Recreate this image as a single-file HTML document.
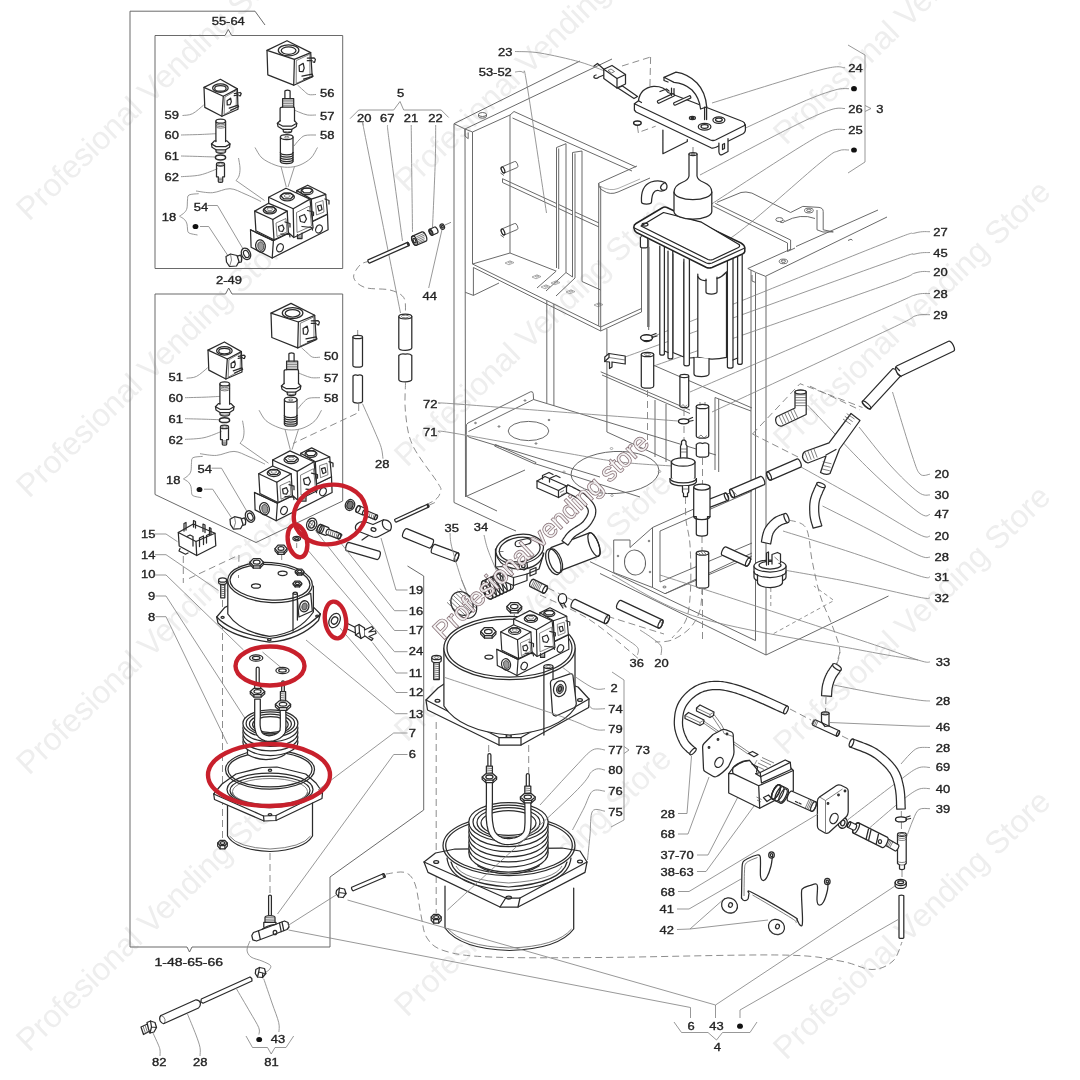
<!DOCTYPE html>
<html lang="en"><head><meta charset="utf-8"><title>Exploded parts diagram</title>
<style>
html,body{margin:0;padding:0;background:#fff}
body{width:1080px;height:1080px;overflow:hidden}
svg{display:block}
text{filter:grayscale(1)}
text.wc{filter:saturate(1.2)}
.p{stroke:#2b2b2b;stroke-width:1.25;fill:none;stroke-linejoin:round;stroke-linecap:round}
.pw{stroke:#2b2b2b;stroke-width:1.25;fill:#fff;stroke-linejoin:round;stroke-linecap:round}
.pt{stroke:#4a4a4a;stroke-width:.7;fill:none}
.l{stroke:#858585;stroke-width:.85;fill:none}
.d{stroke:#808080;stroke-width:.9;fill:none;stroke-dasharray:7 4}
.ds{stroke:#8a8a8a;stroke-width:.9;fill:none;stroke-dasharray:4 3}
.f{stroke:#626262;stroke-width:.95;fill:none;stroke-linejoin:round}
.fl{stroke:#8a8a8a;stroke-width:.7;fill:none}
.r{stroke:#c8202c;stroke-width:4.4;fill:none}
.n{font-family:"Liberation Sans",sans-serif;font-size:10.8px;fill:#242424;stroke:#242424;stroke-width:.35}
.wm{font-family:"Liberation Sans",sans-serif;font-size:32px;fill:#eeeeee}
.wc{font-family:"Liberation Sans",sans-serif;font-size:25.3px;fill:#fff;fill-opacity:.8;stroke:#7a666b;stroke-width:1.3;paint-order:stroke}
.k{fill:#111;stroke:none}
</style></head><body>
<svg width="1080" height="1080" viewBox="0 0 1080 1080">
<rect width="1080" height="1080" fill="#fff"/>
<!-- 01_watermarks.py -->
<text class="wm" transform="translate(29 222) rotate(-44)">Profesional Vending Store</text>
<text class="wm" transform="translate(29 499) rotate(-44)">Profesional Vending Store</text>
<text class="wm" transform="translate(29 776) rotate(-44)">Profesional Vending Store</text>
<text class="wm" transform="translate(29 1053) rotate(-44)">Profesional Vending Store</text>
<text class="wm" transform="translate(407 193) rotate(-44)">Profesional Vending Store</text>
<text class="wm" transform="translate(407 468) rotate(-44)">Profesional Vending Store</text>
<text class="wm" transform="translate(407 743) rotate(-44)">Profesional Vending Store</text>
<text class="wm" transform="translate(407 1018) rotate(-44)">Profesional Vending Store</text>
<text class="wm" transform="translate(786 146) rotate(-44)">Profesional Vending Store</text>
<text class="wm" transform="translate(786 451) rotate(-44)">Profesional Vending Store</text>
<text class="wm" transform="translate(786 756) rotate(-44)">Profesional Vending Store</text>
<text class="wm" transform="translate(786 1061) rotate(-44)">Profesional Vending Store</text>
<!-- 05_frames.py -->
<polyline class="f" points="265,25 255,11.2 130,11.2 130,947 187,947 189.5,952 192,947 330,947 330,877 423.7,810 423.7,576 407.5,566"/>
<polyline class="f" points="225,35.5 155,35.5 155,268.5 342.7,268.5 342.7,35.5 231.7,35.5 228.3,29.5 225,35.5"/>
<polyline class="f" points="225.5,294 155,294 155,494.5 256,542.5 342.7,501 342.7,294 232,294 228.7,288 225.5,294"/>
<!-- 10_labels.py -->
<text class="n" transform="translate(211.7 25) scale(1.2 1)">55-64</text>
<text class="n" transform="translate(320 97) scale(1.2 1)">56</text>
<text class="n" transform="translate(320 119.5) scale(1.2 1)">57</text>
<text class="n" transform="translate(320 139) scale(1.2 1)">58</text>
<text class="n" transform="translate(164.5 118.5) scale(1.2 1)">59</text>
<text class="n" transform="translate(164.5 139) scale(1.2 1)">60</text>
<text class="n" transform="translate(164.5 159.5) scale(1.2 1)">61</text>
<text class="n" transform="translate(164.5 180.5) scale(1.2 1)">62</text>
<text class="n" transform="translate(161.7 220.7) scale(1.2 1)">18</text>
<text class="n" transform="translate(193.7 210.5) scale(1.2 1)">54</text>
<text class="n" transform="translate(216 284) scale(1.2 1)">2-49</text>
<text class="n" transform="translate(324 360) scale(1.2 1)">50</text>
<text class="n" transform="translate(324 381.5) scale(1.2 1)">57</text>
<text class="n" transform="translate(324 402) scale(1.2 1)">58</text>
<text class="n" transform="translate(168.5 381) scale(1.2 1)">51</text>
<text class="n" transform="translate(168.5 401.7) scale(1.2 1)">60</text>
<text class="n" transform="translate(168.5 422.5) scale(1.2 1)">61</text>
<text class="n" transform="translate(168.5 443.5) scale(1.2 1)">62</text>
<text class="n" transform="translate(166 483.7) scale(1.2 1)">18</text>
<text class="n" transform="translate(197.5 473) scale(1.2 1)">54</text>
<text class="n" transform="translate(141 538.2) scale(1.2 1)">15</text>
<text class="n" transform="translate(141 558.7) scale(1.2 1)">14</text>
<text class="n" transform="translate(141 578.2) scale(1.2 1)">10</text>
<text class="n" transform="translate(148 599.5) scale(1.2 1)">9</text>
<text class="n" transform="translate(148 620.5) scale(1.2 1)">8</text>
<text class="n" transform="translate(375 468) scale(1.2 1)">28</text>
<text class="n" transform="translate(444.5 532) scale(1.2 1)">35</text>
<text class="n" transform="translate(473.7 531.2) scale(1.2 1)">34</text>
<text class="n" transform="translate(408.7 593.7) scale(1.2 1)">19</text>
<text class="n" transform="translate(408.7 614.5) scale(1.2 1)">16</text>
<text class="n" transform="translate(408.7 633.7) scale(1.2 1)">17</text>
<text class="n" transform="translate(408.7 655) scale(1.2 1)">24</text>
<text class="n" transform="translate(408.7 676.7) scale(1.2 1)">11</text>
<text class="n" transform="translate(408.7 696.2) scale(1.2 1)">12</text>
<text class="n" transform="translate(408.7 717.5) scale(1.2 1)">13</text>
<text class="n" transform="translate(408.7 736.7) scale(1.2 1)">7</text>
<text class="n" transform="translate(408.7 758) scale(1.2 1)">6</text>
<text class="n" transform="translate(498 55.5) scale(1.2 1)">23</text>
<text class="n" transform="translate(478.7 75.7) scale(1.2 1)">53-52</text>
<text class="n" transform="translate(397 97) scale(1.2 1)">5</text>
<text class="n" transform="translate(357 122) scale(1.2 1)">20</text>
<text class="n" transform="translate(380 122) scale(1.2 1)">67</text>
<text class="n" transform="translate(403.7 122) scale(1.2 1)">21</text>
<text class="n" transform="translate(428.2 122) scale(1.2 1)">22</text>
<text class="n" transform="translate(422.5 299.5) scale(1.2 1)">44</text>
<text class="n" transform="translate(423 407.5) scale(1.2 1)">72</text>
<text class="n" transform="translate(423 436.2) scale(1.2 1)">71</text>
<text class="n" transform="translate(848.2 71.7) scale(1.2 1)">24</text>
<text class="n" transform="translate(848.2 112.5) scale(1.2 1)">26</text>
<text class="n" transform="translate(876.2 112.5) scale(1.2 1)">3</text>
<text class="n" transform="translate(848.2 133.7) scale(1.2 1)">25</text>
<text class="n" transform="translate(933.2 235.7) scale(1.2 1)">27</text>
<text class="n" transform="translate(933.2 256.5) scale(1.2 1)">45</text>
<text class="n" transform="translate(933.2 275.7) scale(1.2 1)">20</text>
<text class="n" transform="translate(933.2 297.5) scale(1.2 1)">28</text>
<text class="n" transform="translate(933.2 318.7) scale(1.2 1)">29</text>
<text class="n" transform="translate(934.5 478.2) scale(1.2 1)">20</text>
<text class="n" transform="translate(934.5 499) scale(1.2 1)">30</text>
<text class="n" transform="translate(934.5 518.2) scale(1.2 1)">47</text>
<text class="n" transform="translate(934.5 540) scale(1.2 1)">20</text>
<text class="n" transform="translate(934.5 561.2) scale(1.2 1)">28</text>
<text class="n" transform="translate(934.5 580.7) scale(1.2 1)">31</text>
<text class="n" transform="translate(934.5 602) scale(1.2 1)">32</text>
<text class="n" transform="translate(935.7 666.2) scale(1.2 1)">33</text>
<text class="n" transform="translate(935.7 705) scale(1.2 1)">28</text>
<text class="n" transform="translate(935.7 730.5) scale(1.2 1)">46</text>
<text class="n" transform="translate(935.7 752) scale(1.2 1)">28</text>
<text class="n" transform="translate(935.7 771.2) scale(1.2 1)">69</text>
<text class="n" transform="translate(935.7 793) scale(1.2 1)">40</text>
<text class="n" transform="translate(935.7 813.2) scale(1.2 1)">39</text>
<text class="n" transform="translate(629.5 666.7) scale(1.2 1)">36</text>
<text class="n" transform="translate(654.2 666.7) scale(1.2 1)">20</text>
<text class="n" transform="translate(610.5 692) scale(1.2 1)">2</text>
<text class="n" transform="translate(608.2 712.5) scale(1.2 1)">74</text>
<text class="n" transform="translate(608.2 733) scale(1.2 1)">79</text>
<text class="n" transform="translate(608.2 754.2) scale(1.2 1)">77</text>
<text class="n" transform="translate(635.5 754.2) scale(1.2 1)">73</text>
<text class="n" transform="translate(608.2 774.2) scale(1.2 1)">80</text>
<text class="n" transform="translate(608.2 795) scale(1.2 1)">76</text>
<text class="n" transform="translate(608.2 815.7) scale(1.2 1)">75</text>
<text class="n" transform="translate(660.5 817.5) scale(1.2 1)">28</text>
<text class="n" transform="translate(660.5 838) scale(1.2 1)">68</text>
<text class="n" transform="translate(660.5 859.2) scale(1.2 1)">37-70</text>
<text class="n" transform="translate(660.5 875.7) scale(1.2 1)">38-63</text>
<text class="n" transform="translate(660.5 895.5) scale(1.2 1)">68</text>
<text class="n" transform="translate(659.5 913) scale(1.2 1)">41</text>
<text class="n" transform="translate(659.5 934.2) scale(1.2 1)">42</text>
<text class="n" transform="translate(687.5 1030) scale(1.2 1)">6</text>
<text class="n" transform="translate(709.2 1030) scale(1.2 1)">43</text>
<text class="n" transform="translate(713.7 1051.2) scale(1.2 1)">4</text>
<text class="n" transform="translate(154.5 965.5) scale(1.3 1)">1-48-65-66</text>
<text class="n" transform="translate(152 1066.2) scale(1.2 1)">82</text>
<text class="n" transform="translate(193 1066.2) scale(1.2 1)">28</text>
<text class="n" transform="translate(264.2 1066.2) scale(1.2 1)">81</text>
<text class="n" transform="translate(270.7 1042.5) scale(1.2 1)">43</text>
<ellipse class="k" cx="195.5" cy="226.5" rx="2.9" ry="2.6"/>
<ellipse class="k" cx="199.5" cy="489.5" rx="2.9" ry="2.6"/>
<ellipse class="k" cx="854" cy="88.7" rx="2.9" ry="2.6"/>
<ellipse class="k" cx="854" cy="150" rx="2.9" ry="2.6"/>
<ellipse class="k" cx="740" cy="1026.2" rx="2.9" ry="2.6"/>
<ellipse class="k" cx="259.2" cy="1039.5" rx="2.9" ry="2.6"/>
<!-- 15_cabinet.py -->
<polyline class="f" points="454,123.7 454,502.5"/>
<polyline class="f" points="468.2,132.5 468.2,138.7 465,136 465,129"/>
<polyline class="f" points="465,129 465.5,497"/>
<polyline class="f" points="472.5,132 472.5,264"/>
<polyline class="f" points="454,123.7 580,61"/>
<polyline class="f" points="465,129 612,59"/>
<polyline class="f" points="454,123.7 465,129 472.5,132"/>
<path class="f" d="M478.5 114.5V116.2A4 2 0 0 0 486.5 116.2V114.5"/>
<ellipse class="f" cx="482.5" cy="114.5" rx="4" ry="2"/>
<polyline class="f" points="472.5,132 510,115 510,253"/>
<polyline class="f" points="510,115 514,111.5 636,167"/>
<polyline class="f" points="512.5,118 632,171"/>
<polyline class="f" points="556.5,147.5 556.5,268"/>
<polyline class="f" points="558.7,148.5 558.7,269"/>
<polyline class="f" points="566,143.7 566,272.5"/>
<polyline class="f" points="572.5,152.5 572.5,277"/>
<polyline class="f" points="575,153.5 575,278"/>
<polyline class="f" points="582,151 582,281.5"/>
<polyline class="f" points="556.5,147.5 566,143.7"/>
<polyline class="f" points="572.5,152.5 582,151"/>
<polyline class="f" points="502.5,182.5 502.5,178.7 556.5,203.5"/>
<polyline class="f" points="502.5,182.5 556.5,207.5"/>
<polyline class="f" points="558.7,204.5 572.5,211"/>
<polyline class="f" points="558.7,208.5 572.5,215"/>
<polyline class="f" points="575,212 599,223"/>
<polyline class="f" points="575,216 599,227"/>
<path class="f" d="M504.3 173 L517.3 167.5 A1.5 3.2 -22.9 0 0 514.7 161.5 L501.7 167 A1.5 3.2 -22.9 0 0 504.3 173 Z"/>
<ellipse class="p" cx="503" cy="170" rx="1.5" ry="3.2" transform="rotate(-22.9 503 170)"/>
<polyline class="f" points="500.5,173 504,175.5"/>
<path class="f" d="M504.3 235 L517.3 229.5 A1.5 3.2 -22.9 0 0 514.7 223.5 L501.7 229 A1.5 3.2 -22.9 0 0 504.3 235 Z"/>
<ellipse class="p" cx="503" cy="232" rx="1.5" ry="3.2" transform="rotate(-22.9 503 232)"/>
<polyline class="f" points="500.5,235 504,237.5"/>
<polyline class="f" points="472.5,264 510,253 556,271"/>
<polyline class="f" points="472.5,264 600.7,327"/>
<polyline class="f" points="473.4,267.5 600.7,331"/>
<polyline class="f" points="556.3,271 537,288"/>
<polyline class="f" points="566,272.5 546,291"/>
<polyline class="f" points="575,278 556,296"/>
<polyline class="f" points="582,281.5 600.7,290"/>
<polyline class="f" points="566,272.5 572.5,277"/>
<polygon class="fl" points="505,263 510,260.8 514,262.6 509,264.8"/>
<polygon class="fl" points="508.3,262.5 510.5,261.6 511.8,262.2 509.6,263.2"/>
<polygon class="fl" points="532,277 537,274.8 541,276.6 536,278.8"/>
<polygon class="fl" points="535.3,276.5 537.5,275.6 538.8,276.2 536.6,277.2"/>
<polygon class="fl" points="541,287 546,284.8 550,286.6 545,288.8"/>
<polygon class="fl" points="544.3,286.5 546.5,285.6 547.8,286.2 545.6,287.2"/>
<polygon class="fl" points="551,283 556,280.8 560,282.6 555,284.8"/>
<polygon class="fl" points="554.3,282.5 556.5,281.6 557.8,282.2 555.6,283.2"/>
<polygon class="fl" points="566,292 571,289.8 575,291.6 570,293.8"/>
<polygon class="fl" points="569.3,291.5 571.5,290.6 572.8,291.2 570.6,292.2"/>
<polygon class="fl" points="594,305 599,302.8 603,304.6 598,306.8"/>
<polygon class="fl" points="597.3,304.5 599.5,303.6 600.8,304.2 598.6,305.2"/>
<polyline class="f" points="473.4,267.5 473.4,295.4 465.3,292.3"/>
<polyline class="f" points="473.4,295.4 499,283"/>
<polyline class="f" points="598.7,183.2 598.7,326"/>
<polyline class="f" points="600.7,186 600.7,331"/>
<polyline class="f" points="600.7,331 641.5,312"/>
<polyline class="f" points="600.7,327 641.5,308.5"/>
<polyline class="f" points="641.5,236 641.5,312"/>
<path class="f" d="M637 166L598.7 183.2Q599 189 603 190.5Q610 195.5 618 192L650 178"/>
<path class="fl" d="M600.5 186.5Q610 191.5 618 188.5L640 179"/>
<polyline class="f" points="546.8,300.5 546.8,403"/>
<polyline class="f" points="553.9,304 553.9,406"/>
<polyline class="f" points="606.9,329 606.9,432"/>
<path class="f" d="M466.3 434.5V426Q466.3 424 468 423L530.5 391.8Q532.8 391 533.2 393.5L533.6 399.5"/>
<polyline class="f" points="468.5,431.5 533.6,399.5 716,455"/>
<path class="f" d="M466.3 434.5Q467 436.5 470 437.5L600 477"/>
<ellipse class="f" cx="528.5" cy="431" rx="20.3" ry="9.6"/>
<ellipse class="f" cx="475.5" cy="423" rx="0.9" ry="0.7"/>
<ellipse class="f" cx="525" cy="400.5" rx="0.9" ry="0.7"/>
<ellipse class="f" cx="499" cy="426.5" rx="0.9" ry="0.7"/>
<ellipse class="f" cx="549" cy="420" rx="0.9" ry="0.7"/>
<ellipse class="f" cx="536" cy="443.5" rx="0.9" ry="0.7"/>
<polygon class="f" points="494.5,446 495.5,444.5 536,462.5 535,464"/>
<polyline class="f" points="466.3,436 466.3,496.3 525,470"/>
<polyline class="f" points="454,502.5 500,524"/>
<polyline class="f" points="466.3,496.3 497,511"/>
<ellipse class="f" cx="615" cy="472.5" rx="44" ry="21" transform="rotate(-3 615 472.5)"/>
<ellipse class="fl" cx="564" cy="472" rx="1.3" ry="1"/>
<ellipse class="fl" cx="659.5" cy="471.5" rx="1.3" ry="1"/>
<ellipse class="fl" cx="612" cy="495.5" rx="1.3" ry="1"/>
<ellipse class="fl" cx="611.5" cy="448.5" rx="1.3" ry="1"/>
<polyline class="f" points="535,463.7 640,497"/>
<polyline class="f" points="665,593.7 752,553"/>
<polyline class="f" points="500,524 516,531"/>
<polyline class="f" points="613.7,540 630,540 630,547.5 652.5,527.5 652.5,587.5 665,593.7 752,556"/>
<polyline class="f" points="613.7,540 613.7,572.5 652.5,587.5"/>
<polyline class="f" points="652.5,527.5 752,483"/>
<polyline class="f" points="660,531 660,582 752,543"/>
<polyline class="f" points="660,531 752,491"/>
<ellipse class="f" cx="635" cy="562.5" rx="10.5" ry="12.5" transform="rotate(-8 635 562.5)"/>
<ellipse class="f" cx="618" cy="556" rx="0.8" ry="0.8"/>
<ellipse class="f" cx="650" cy="572" rx="0.8" ry="0.8"/>
<ellipse class="f" cx="649" cy="541" rx="0.8" ry="0.8"/>
<ellipse class="f" cx="664.5" cy="587" rx="1.6" ry="0.9"/>
<polyline class="f" points="600.7,371.8 690,410"/>
<polyline class="f" points="602,375 690,413.5"/>
<polyline class="f" points="641.5,360 752,408"/>
<polyline class="f" points="648.7,240 648.7,330"/>
<polyline class="f" points="655,400 655,457"/>
<polyline class="f" points="666,404 666,462"/>
<polyline class="f" points="715,397.5 715,470"/>
<polyline class="f" points="718.7,399 718.7,472"/>
<polyline class="f" points="715,397.5 751,411"/>
<polyline class="f" points="606.9,432 690,470"/>
<polyline class="f" points="751,270 751,560"/>
<polyline class="f" points="755.5,273 755.5,640.6"/>
<polyline class="f" points="766,276.5 766,655"/>
<polyline class="f" points="766,655 888.5,596"/>
<polyline class="f" points="590,561.7 755.5,640.6"/>
<polyline class="f" points="600,573.5 766,655"/>
<polyline class="f" points="752,275 752,281 755.5,282.5"/>
<polyline class="f" points="747.8,268.5 790,249.5"/>
<polyline class="f" points="747.8,268.5 756,272.5 766,276.5"/>
<polyline class="f" points="766,276 887,217"/>
<polyline class="f" points="796,246.5 878,210"/>
<polyline class="f" points="715.2,203.3 790.6,240 790.6,250"/>
<polyline class="f" points="713,206 787.5,243 787.5,251.5"/>
<polyline class="f" points="787.5,251.5 795,248"/>
<path class="f" d="M717 202.3L741 192.5Q745.5 191.2 751.9 193.1L790.6 212.5L802.8 206.4L819 207.4Q823.2 208 823.2 211.5V229.8L833.3 231.9"/>
<polyline class="f" points="817,210 817,229.8 823,232 833.3,231.9"/>
<path class="f" d="M784.4 221.7Q800.7 213 815 218.5"/>
<ellipse class="f" cx="808.9" cy="210.5" rx="4.4" ry="2.4"/>
<ellipse class="f" cx="808.9" cy="210.3" rx="2.3" ry="1.2"/>
<ellipse class="f" cx="779.4" cy="219.6" rx="3.6" ry="2"/>
<path class="f" d="M780 222Q785 224 784 220"/>
<ellipse class="f" cx="783.4" cy="261.4" rx="4.2" ry="2.3"/>
<ellipse class="f" cx="783.4" cy="261.2" rx="2.2" ry="1.2"/>
<path class="f" d="M848 240.5L851 239.2L852.5 240.3"/>
<!-- 20_valvebox.py -->
<g transform="translate(0 0)">
<path class="l" d="M182.5 115.5 C184.2 115.2 189 115.5 192.5 113.7 C196 112 201.8 106.5 203.7 105"/>
<path class="l" d="M181 135 C184.2 134.9 194.2 134.7 200 134.5 C205.8 134.3 213.3 133.8 216 133.7"/>
<path class="l" d="M181 156 C184.2 156.1 194.2 156.3 200 156.5 C205.8 156.7 212.9 156.9 215.5 157"/>
<path class="l" d="M181 176.7 C184.2 176.4 193.9 176.3 200 175 C206.1 173.7 214.6 169.8 217.5 168.7"/>
<path class="l" d="M316 94.5 C314.8 94.5 310.9 95.2 308.7 94.5 C306.5 93.8 304.9 91.6 303 90 C301.1 88.4 298.4 85.8 297.5 85"/>
<path class="l" d="M316 115 C314.6 115 310.2 115.4 307.5 115 C304.8 114.6 302.2 113.3 300 112.5 C297.8 111.7 295 110.4 294 110"/>
<path class="l" d="M316 135 C314.2 135.1 307.8 134.7 305 135.5 C302.2 136.3 300.8 138.2 299 140 C297.2 141.8 294.8 145 294 146"/>
<path class="l" d="M255 147.5 C256.2 149.2 258.7 155.1 262 158 C265.3 160.9 270.8 163.4 275 165 C279.2 166.6 283.3 167.3 287.5 167.3 C291.7 167.3 296.1 166.6 300 165 C303.9 163.4 308.1 160.9 311 158 C313.9 155.1 316.4 149.2 317.5 147.5"/>
<polyline class="l" points="281,166.5 286.3,187"/>
<polyline class="l" points="294.5,166.5 288,187"/>
<path class="l" d="M238.5 158 C238.8 159.7 239.9 165 240 168 C240.1 171 239.7 173.9 239 176 C238.3 178.1 236.5 179.8 236 180.5"/>
<polyline class="l" points="236,180.5 264.5,200.5"/>
<path class="l" d="M196 191 C198.8 191.3 206.8 193.1 212.5 192.7 C218.2 192.3 224.6 188.5 230 188.7 C235.4 188.9 239.8 191.9 245 194 C250.2 196.1 258.3 200.2 261 201.5"/>
<path class="l" d="M198.7 193.7 C197.1 193.9 190.9 193.9 189 195 C187.1 196.1 187.8 197.8 187.5 200 C187.2 202.2 187.5 205.9 187 208 C186.5 210.1 185.8 211.1 184.5 212.5 C183.2 213.9 180.3 215.6 179.5 216.2"/>
<path class="l" d="M179.5 216.2 C180.3 216.8 183.2 218.2 184.5 219.5 C185.8 220.8 186.5 222.4 187 224 C187.5 225.6 187.2 227.5 187.5 229 C187.8 230.5 187.3 232 189 233 C190.7 234 196.1 234.7 197.5 235"/>
<polyline class="l" points="207.5,205.5 217.5,205.5 243.7,250"/>
<polyline class="l" points="200,226.5 208.7,226.5 227.5,255"/>
<polygon class="pw" points="220.4,79.3 204,87.4 204.8,107.4 221.9,116.3 238,109.3 237.4,88.9"/>
<polyline class="p" points="204,87.4 223.3,96.3 237.4,88.9"/>
<polyline class="p" points="223.3,96.3 221.9,116.3"/>
<ellipse class="p" cx="220.4" cy="88.1" rx="7.8" ry="4.2"/>
<ellipse class="p" cx="220.4" cy="88.4" rx="5.7" ry="2.8"/>
<polygon class="pt" points="224.9,97 236.6,90.3 236.1,107.9 224.1,114.6"/>
<polygon class="p" points="227.1,100.7 230.6,98.2 231.3,101.7 230.2,104.6 227.2,104.9"/>
<polyline class="p" points="234.4,93.6 240.1,92.5 241.2,93.5 240.4,95.8 239.1,95.7"/>
<polyline class="p" points="234.2,95.6 238.3,95"/>
<polyline class="p" points="229.3,108.2 237.9,105.2 238.6,106.8 230.5,110.3"/>
<polygon class="pw" points="287,40.7 267,50.4 267.8,74.8 293.7,85.2 312.2,77 310.7,52.6"/>
<polyline class="p" points="267,50.4 294.4,59.3 310.7,52.6"/>
<polyline class="p" points="294.4,59.3 293.7,85.2"/>
<ellipse class="p" cx="288.6" cy="50.3" rx="10.3" ry="5.5"/>
<ellipse class="p" cx="288.6" cy="50.6" rx="7.4" ry="3.7"/>
<polygon class="pt" points="296.3,60.6 309.8,54.2 310,77.2 296.2,83.4"/>
<polygon class="p" points="299.1,65.8 303.2,63.4 304.2,68.1 302.9,71.7 299.4,71.3"/>
<polyline class="p" points="307.3,58.1 314.1,57.9 315.4,59.4 314.6,62.3 313,61.9"/>
<polyline class="p" points="307.3,60.7 312.1,60.7"/>
<polyline class="p" points="302,76.2 312.1,74.1 313,76.3 303.5,79.1"/>
<path class="p" d="M215.9 121.2V141.5M225.6 121.2V141.5"/>
<ellipse class="pw" cx="220.7" cy="121.2" rx="4.8" ry="2"/>
<path class="pt" d="M215.9 123 A4.85 2 0 0 0 225.6 123"/>
<path class="pt" d="M215.9 124.6 A4.85 2 0 0 0 225.6 124.6"/>
<path class="pt" d="M215.9 126.2 A4.85 2 0 0 0 225.6 126.2"/>
<polyline class="p" points="211.5,144 214.4,140.9 215.9,140.9"/>
<polyline class="p" points="225.6,140.9 227,140.9 230,144 229.5,147.3 225.6,149.8 216,149.8 212,147.3 211.5,144"/>
<polyline class="p" points="211.5,144 216,146.6 225.6,146.6 230,144"/>
<path class="p" d="M216 149.8V151.5A4.8 1.8 0 0 0 225.6 151.5V149.8"/>
<path class="pt" d="M216 150.6A4.8 1.8 0 0 0 225.6 150.6"/>
<ellipse cx="220.5" cy="157.5" rx="5.1" ry="2.4" fill="none" stroke="#2e2e2e" stroke-width="1.5"/>
<path class="p" d="M216.5 164.2V176.8H218.3V181.5A2.2 .9 0 0 0 222.7 181.5V176.8H224.5V164.2"/>
<ellipse class="pw" cx="220.5" cy="164.2" rx="4" ry="1.8"/>
<ellipse class="pt" cx="220.5" cy="164.3" rx="2.6" ry="1.1"/>
<path class="pt" d="M218.3 178.2H222.7M218.3 179.6H222.7M218.3 181H222.7"/>
<path class="p" d="M284.9 98.5V91.2A2.6 1.1 0 0 1 290.1 91.2V98.5"/>
<path class="p" d="M282.6 107V98.5H293.7V107"/>
<line class="pt" x1="282.6" y1="100.2" x2="293.7" y2="100.2"/>
<line class="pt" x1="282.6" y1="101.9" x2="293.7" y2="101.9"/>
<line class="pt" x1="282.6" y1="103.6" x2="293.7" y2="103.6"/>
<line class="pt" x1="282.6" y1="105.3" x2="293.7" y2="105.3"/>
<path class="p" d="M280.1 121V108.5Q280.1 107 282.6 107H293.7Q294.5 107 294.5 108.5V121"/>
<polyline class="p" points="280.1,120.7 277.4,123.3 278,126.5 282.5,129.3 292,129.3 296.3,126.5 296.8,123.3 294.5,120.7"/>
<polyline class="p" points="277.4,123.3 282.5,126 292,126 296.8,123.3"/>
<path class="p" d="M283.3 129.3V131.3A4.2 1.5 0 0 0 291.7 131.3V129.3"/>
<path class="pt" d="M283.3 130.3A4.2 1.5 0 0 0 291.7 130.3"/>
<path class="p" d="M280.4 137V152.6M293 137V152.6"/>
<ellipse class="pw" cx="286.7" cy="137" rx="6.3" ry="2.5"/>
<ellipse class="pt" cx="286.7" cy="137.2" rx="2.2" ry="0.9"/>
<path class="p" d="M280.4 152.6 A6.3 2.3 0 0 0 293 152.6"/>
<path class="p" d="M280.4 154.8 A6.3 2.3 0 0 0 293 154.8"/>
<path class="p" d="M280.4 157 A6.3 2.3 0 0 0 293 157"/>
<path class="p" d="M280.4 159.2 A6.3 2.3 0 0 0 293 159.2"/>
<path class="p" d="M280.4 161.2 A6.3 2.3 0 0 0 293 161.2"/>
<path class="p" d="M280.4 152.6V161.2M293 152.6V161.2"/>
<polygon class="pw" points="250.5,229.8 251.1,247.2 272.2,258 328.1,229.8 327.5,214.1 273.4,240.6"/>
<polyline class="p" points="250.5,229.8 273.4,240.6 272.2,258"/>
<polygon class="pw" points="296.8,190.6 307.7,185.2 325.7,194.3 327.5,214 313,221 297,212"/>
<polyline class="p" points="296.8,190.6 311.3,199.1 312.5,220"/>
<polyline class="p" points="311.3,199.1 325.7,194.3"/>
<ellipse class="pw" cx="307" cy="191.4" rx="6" ry="3.2"/>
<polygon class="p" points="301.5,190.2 304,188 310,188 312.5,190.2 310,192.8 304,192.8"/>
<polygon class="pt" points="315.5,203 323,200.5 324,212 316.5,215"/>
<polygon class="p" points="317.5,206 321,205 322,209.5 319,211"/>
<polyline class="p" points="325,199 329,200.5 329,204"/>
<polygon class="pw" points="268.6,197.3 286,188.2 310,199.1 313.1,228 293.8,237.5 269,215"/>
<polyline class="p" points="268.6,197.3 293.2,208.7 310,199.1"/>
<polyline class="p" points="293.2,208.7 293.8,237"/>
<ellipse class="pw" cx="287.2" cy="197" rx="7.2" ry="3.9"/>
<polygon class="p" points="280.8,195.8 283.7,193.2 290.7,193.2 293.6,195.8 290.7,198.8 283.7,198.8"/>
<ellipse class="pt" cx="287.2" cy="195.9" rx="3" ry="1.5"/>
<polygon class="pt" points="296.5,212.5 309.5,206 311.5,226 297,232.5"/>
<polygon class="p" points="299.5,216.5 304.5,214.5 306.5,219 304.5,222.5 300.5,221.5"/>
<polyline class="p" points="307.5,210.5 313.5,212 313.5,215.5"/>
<polyline class="p" points="302,226.5 312,227.5 312.5,230"/>
<polygon class="pw" points="254.7,211.1 268.6,203.3 287.2,211.1 288.4,233 274,239.8 255.9,230.8"/>
<polyline class="p" points="254.7,211.1 272.8,219.5 287.2,211.1"/>
<polyline class="p" points="272.8,219.5 274,239.5"/>
<ellipse class="pw" cx="269.8" cy="210.3" rx="6.6" ry="3.6"/>
<polygon class="p" points="264,209.2 266.7,206.8 273,206.8 275.7,209.2 273,212 266.7,212"/>
<ellipse class="pt" cx="269.8" cy="209.2" rx="2.8" ry="1.4"/>
<polygon class="pt" points="276,223 286,218.5 287,232 277,236.5"/>
<polygon class="p" points="278.5,226.5 282.5,225 284,228.5 282.5,231.5 279.3,231"/>
<polyline class="p" points="285,222 290,223.5 290,227"/>
<polyline class="p" points="281,234 289.5,234.5 290,236.8"/>
<path class="p" d="M297.5 234.5V238.5H302V233"/>
<path class="pt" d="M297.5 236H302M297.5 237.3H302"/>
<ellipse class="p" cx="260.5" cy="246" rx="4.8" ry="6.2" transform="rotate(-12 260.5 246)"/>
<ellipse cx="260.8" cy="246.2" rx="3" ry="4.4" fill="#9a9a9a" stroke="#444" stroke-width=".8" transform="rotate(-12 260.8 246.2)"/>
<ellipse class="p" cx="280" cy="247.8" rx="3.2" ry="4.2" transform="rotate(25 280 247.8)"/>
<ellipse class="p" cx="319" cy="229" rx="3.2" ry="4.2" transform="rotate(25 319 229)"/>
<polygon class="pw" points="226,256.5 230.5,254 237,255.5 239,261.5 236.5,266 229.5,266.5 226.5,262"/>
<polyline class="pt" points="230.5,254 231.5,260 229.5,266.5"/>
<path class="p" d="M237.5 256.2L240.5 255.2Q242.5 258 241.3 262L238.8 262.6"/>
<ellipse class="pw" cx="246" cy="253.8" rx="4.4" ry="6" transform="rotate(-25 246 253.8)"/>
<ellipse class="p" cx="246.3" cy="254" rx="2.5" ry="3.8" transform="rotate(-25 246.3 254)"/>
</g>
<g transform="translate(4 262.7)">
<path class="l" d="M182.5 115.5 C184.2 115.2 189 115.5 192.5 113.7 C196 112 201.8 106.5 203.7 105"/>
<path class="l" d="M181 135 C184.2 134.9 194.2 134.7 200 134.5 C205.8 134.3 213.3 133.8 216 133.7"/>
<path class="l" d="M181 156 C184.2 156.1 194.2 156.3 200 156.5 C205.8 156.7 212.9 156.9 215.5 157"/>
<path class="l" d="M181 176.7 C184.2 176.4 193.9 176.3 200 175 C206.1 173.7 214.6 169.8 217.5 168.7"/>
<path class="l" d="M316 94.5 C314.8 94.5 310.9 95.2 308.7 94.5 C306.5 93.8 304.9 91.6 303 90 C301.1 88.4 298.4 85.8 297.5 85"/>
<path class="l" d="M316 115 C314.6 115 310.2 115.4 307.5 115 C304.8 114.6 302.2 113.3 300 112.5 C297.8 111.7 295 110.4 294 110"/>
<path class="l" d="M316 135 C314.2 135.1 307.8 134.7 305 135.5 C302.2 136.3 300.8 138.2 299 140 C297.2 141.8 294.8 145 294 146"/>
<path class="l" d="M255 147.5 C256.2 149.2 258.7 155.1 262 158 C265.3 160.9 270.8 163.4 275 165 C279.2 166.6 283.3 167.3 287.5 167.3 C291.7 167.3 296.1 166.6 300 165 C303.9 163.4 308.1 160.9 311 158 C313.9 155.1 316.4 149.2 317.5 147.5"/>
<polyline class="l" points="281,166.5 286.3,187"/>
<polyline class="l" points="294.5,166.5 288,187"/>
<path class="l" d="M238.5 158 C238.8 159.7 239.9 165 240 168 C240.1 171 239.7 173.9 239 176 C238.3 178.1 236.5 179.8 236 180.5"/>
<polyline class="l" points="236,180.5 264.5,200.5"/>
<path class="l" d="M196 191 C198.8 191.3 206.8 193.1 212.5 192.7 C218.2 192.3 224.6 188.5 230 188.7 C235.4 188.9 239.8 191.9 245 194 C250.2 196.1 258.3 200.2 261 201.5"/>
<path class="l" d="M198.7 193.7 C197.1 193.9 190.9 193.9 189 195 C187.1 196.1 187.8 197.8 187.5 200 C187.2 202.2 187.5 205.9 187 208 C186.5 210.1 185.8 211.1 184.5 212.5 C183.2 213.9 180.3 215.6 179.5 216.2"/>
<path class="l" d="M179.5 216.2 C180.3 216.8 183.2 218.2 184.5 219.5 C185.8 220.8 186.5 222.4 187 224 C187.5 225.6 187.2 227.5 187.5 229 C187.8 230.5 187.3 232 189 233 C190.7 234 196.1 234.7 197.5 235"/>
<polyline class="l" points="207.5,205.5 217.5,205.5 243.7,250"/>
<polyline class="l" points="200,226.5 208.7,226.5 227.5,255"/>
<polygon class="pw" points="220.4,79.3 204,87.4 204.8,107.4 221.9,116.3 238,109.3 237.4,88.9"/>
<polyline class="p" points="204,87.4 223.3,96.3 237.4,88.9"/>
<polyline class="p" points="223.3,96.3 221.9,116.3"/>
<ellipse class="p" cx="220.4" cy="88.1" rx="7.8" ry="4.2"/>
<ellipse class="p" cx="220.4" cy="88.4" rx="5.7" ry="2.8"/>
<polygon class="pt" points="224.9,97 236.6,90.3 236.1,107.9 224.1,114.6"/>
<polygon class="p" points="227.1,100.7 230.6,98.2 231.3,101.7 230.2,104.6 227.2,104.9"/>
<polyline class="p" points="234.4,93.6 240.1,92.5 241.2,93.5 240.4,95.8 239.1,95.7"/>
<polyline class="p" points="234.2,95.6 238.3,95"/>
<polyline class="p" points="229.3,108.2 237.9,105.2 238.6,106.8 230.5,110.3"/>
<polygon class="pw" points="287,40.7 267,50.4 267.8,74.8 293.7,85.2 312.2,77 310.7,52.6"/>
<polyline class="p" points="267,50.4 294.4,59.3 310.7,52.6"/>
<polyline class="p" points="294.4,59.3 293.7,85.2"/>
<ellipse class="p" cx="288.6" cy="50.3" rx="10.3" ry="5.5"/>
<ellipse class="p" cx="288.6" cy="50.6" rx="7.4" ry="3.7"/>
<polygon class="pt" points="296.3,60.6 309.8,54.2 310,77.2 296.2,83.4"/>
<polygon class="p" points="299.1,65.8 303.2,63.4 304.2,68.1 302.9,71.7 299.4,71.3"/>
<polyline class="p" points="307.3,58.1 314.1,57.9 315.4,59.4 314.6,62.3 313,61.9"/>
<polyline class="p" points="307.3,60.7 312.1,60.7"/>
<polyline class="p" points="302,76.2 312.1,74.1 313,76.3 303.5,79.1"/>
<path class="p" d="M215.9 121.2V141.5M225.6 121.2V141.5"/>
<ellipse class="pw" cx="220.7" cy="121.2" rx="4.8" ry="2"/>
<path class="pt" d="M215.9 123 A4.85 2 0 0 0 225.6 123"/>
<path class="pt" d="M215.9 124.6 A4.85 2 0 0 0 225.6 124.6"/>
<path class="pt" d="M215.9 126.2 A4.85 2 0 0 0 225.6 126.2"/>
<polyline class="p" points="211.5,144 214.4,140.9 215.9,140.9"/>
<polyline class="p" points="225.6,140.9 227,140.9 230,144 229.5,147.3 225.6,149.8 216,149.8 212,147.3 211.5,144"/>
<polyline class="p" points="211.5,144 216,146.6 225.6,146.6 230,144"/>
<path class="p" d="M216 149.8V151.5A4.8 1.8 0 0 0 225.6 151.5V149.8"/>
<path class="pt" d="M216 150.6A4.8 1.8 0 0 0 225.6 150.6"/>
<ellipse cx="220.5" cy="157.5" rx="5.1" ry="2.4" fill="none" stroke="#2e2e2e" stroke-width="1.5"/>
<path class="p" d="M216.5 164.2V176.8H218.3V181.5A2.2 .9 0 0 0 222.7 181.5V176.8H224.5V164.2"/>
<ellipse class="pw" cx="220.5" cy="164.2" rx="4" ry="1.8"/>
<ellipse class="pt" cx="220.5" cy="164.3" rx="2.6" ry="1.1"/>
<path class="pt" d="M218.3 178.2H222.7M218.3 179.6H222.7M218.3 181H222.7"/>
<path class="p" d="M284.9 98.5V91.2A2.6 1.1 0 0 1 290.1 91.2V98.5"/>
<path class="p" d="M282.6 107V98.5H293.7V107"/>
<line class="pt" x1="282.6" y1="100.2" x2="293.7" y2="100.2"/>
<line class="pt" x1="282.6" y1="101.9" x2="293.7" y2="101.9"/>
<line class="pt" x1="282.6" y1="103.6" x2="293.7" y2="103.6"/>
<line class="pt" x1="282.6" y1="105.3" x2="293.7" y2="105.3"/>
<path class="p" d="M280.1 121V108.5Q280.1 107 282.6 107H293.7Q294.5 107 294.5 108.5V121"/>
<polyline class="p" points="280.1,120.7 277.4,123.3 278,126.5 282.5,129.3 292,129.3 296.3,126.5 296.8,123.3 294.5,120.7"/>
<polyline class="p" points="277.4,123.3 282.5,126 292,126 296.8,123.3"/>
<path class="p" d="M283.3 129.3V131.3A4.2 1.5 0 0 0 291.7 131.3V129.3"/>
<path class="pt" d="M283.3 130.3A4.2 1.5 0 0 0 291.7 130.3"/>
<path class="p" d="M280.4 137V152.6M293 137V152.6"/>
<ellipse class="pw" cx="286.7" cy="137" rx="6.3" ry="2.5"/>
<ellipse class="pt" cx="286.7" cy="137.2" rx="2.2" ry="0.9"/>
<path class="p" d="M280.4 152.6 A6.3 2.3 0 0 0 293 152.6"/>
<path class="p" d="M280.4 154.8 A6.3 2.3 0 0 0 293 154.8"/>
<path class="p" d="M280.4 157 A6.3 2.3 0 0 0 293 157"/>
<path class="p" d="M280.4 159.2 A6.3 2.3 0 0 0 293 159.2"/>
<path class="p" d="M280.4 161.2 A6.3 2.3 0 0 0 293 161.2"/>
<path class="p" d="M280.4 152.6V161.2M293 152.6V161.2"/>
<polygon class="pw" points="250.5,229.8 251.1,247.2 272.2,258 328.1,229.8 327.5,214.1 273.4,240.6"/>
<polyline class="p" points="250.5,229.8 273.4,240.6 272.2,258"/>
<polygon class="pw" points="296.8,190.6 307.7,185.2 325.7,194.3 327.5,214 313,221 297,212"/>
<polyline class="p" points="296.8,190.6 311.3,199.1 312.5,220"/>
<polyline class="p" points="311.3,199.1 325.7,194.3"/>
<ellipse class="pw" cx="307" cy="191.4" rx="6" ry="3.2"/>
<polygon class="p" points="301.5,190.2 304,188 310,188 312.5,190.2 310,192.8 304,192.8"/>
<polygon class="pt" points="315.5,203 323,200.5 324,212 316.5,215"/>
<polygon class="p" points="317.5,206 321,205 322,209.5 319,211"/>
<polyline class="p" points="325,199 329,200.5 329,204"/>
<polygon class="pw" points="268.6,197.3 286,188.2 310,199.1 313.1,228 293.8,237.5 269,215"/>
<polyline class="p" points="268.6,197.3 293.2,208.7 310,199.1"/>
<polyline class="p" points="293.2,208.7 293.8,237"/>
<ellipse class="pw" cx="287.2" cy="197" rx="7.2" ry="3.9"/>
<polygon class="p" points="280.8,195.8 283.7,193.2 290.7,193.2 293.6,195.8 290.7,198.8 283.7,198.8"/>
<ellipse class="pt" cx="287.2" cy="195.9" rx="3" ry="1.5"/>
<polygon class="pt" points="296.5,212.5 309.5,206 311.5,226 297,232.5"/>
<polygon class="p" points="299.5,216.5 304.5,214.5 306.5,219 304.5,222.5 300.5,221.5"/>
<polyline class="p" points="307.5,210.5 313.5,212 313.5,215.5"/>
<polyline class="p" points="302,226.5 312,227.5 312.5,230"/>
<polygon class="pw" points="254.7,211.1 268.6,203.3 287.2,211.1 288.4,233 274,239.8 255.9,230.8"/>
<polyline class="p" points="254.7,211.1 272.8,219.5 287.2,211.1"/>
<polyline class="p" points="272.8,219.5 274,239.5"/>
<ellipse class="pw" cx="269.8" cy="210.3" rx="6.6" ry="3.6"/>
<polygon class="p" points="264,209.2 266.7,206.8 273,206.8 275.7,209.2 273,212 266.7,212"/>
<ellipse class="pt" cx="269.8" cy="209.2" rx="2.8" ry="1.4"/>
<polygon class="pt" points="276,223 286,218.5 287,232 277,236.5"/>
<polygon class="p" points="278.5,226.5 282.5,225 284,228.5 282.5,231.5 279.3,231"/>
<polyline class="p" points="285,222 290,223.5 290,227"/>
<polyline class="p" points="281,234 289.5,234.5 290,236.8"/>
<path class="p" d="M297.5 234.5V238.5H302V233"/>
<path class="pt" d="M297.5 236H302M297.5 237.3H302"/>
<ellipse class="p" cx="260.5" cy="246" rx="4.8" ry="6.2" transform="rotate(-12 260.5 246)"/>
<ellipse cx="260.8" cy="246.2" rx="3" ry="4.4" fill="#9a9a9a" stroke="#444" stroke-width=".8" transform="rotate(-12 260.8 246.2)"/>
<ellipse class="p" cx="280" cy="247.8" rx="3.2" ry="4.2" transform="rotate(25 280 247.8)"/>
<ellipse class="p" cx="319" cy="229" rx="3.2" ry="4.2" transform="rotate(25 319 229)"/>
<polygon class="pw" points="226,256.5 230.5,254 237,255.5 239,261.5 236.5,266 229.5,266.5 226.5,262"/>
<polyline class="pt" points="230.5,254 231.5,260 229.5,266.5"/>
<path class="p" d="M237.5 256.2L240.5 255.2Q242.5 258 241.3 262L238.8 262.6"/>
<ellipse class="pw" cx="246" cy="253.8" rx="4.4" ry="6" transform="rotate(-25 246 253.8)"/>
<ellipse class="p" cx="246.3" cy="254" rx="2.5" ry="3.8" transform="rotate(-25 246.3 254)"/>
</g>
<!-- 30_leftboiler.py -->
<polyline class="l" points="155,534 166,534 177.5,541.7"/>
<polyline class="l" points="155,554.7 166,554.7 218.5,590.5"/>
<polyline class="l" points="155,575 166,575 243.5,650"/>
<polyline class="l" points="262.5,652 281,667.5"/>
<polyline class="l" points="155.5,596 166,596 250,726"/>
<polyline class="l" points="155.5,616.7 166,616.7 227.5,744"/>
<polyline class="d" points="183.3,556 183.3,583"/>
<polyline class="d" points="189,578.5 239,555 238.5,578"/>
<polyline class="d" points="222.5,600 222.5,838"/>
<polyline class="d" points="270,853 270,895"/>
<polyline class="d" points="256.5,565 256.5,586"/>
<polyline class="d" points="281.7,553 281.7,573"/>
<polyline class="d" points="296.7,543 296.7,548"/>
<polygon class="pw" points="178.3,532.5 193.3,524 215,533.3 215.8,545.8 196.7,555.5 179.2,546"/>
<polyline class="p" points="178.3,532.5 196,541.5 215,533.3"/>
<polyline class="p" points="196,541.5 196.7,555.5"/>
<path class="p" d="M184 531V523.5L186 522.5V530M193.5 527V520.5L195.5 521.5V528M203 531.5V524L205 525V532.5M209.5 535V527.5L211 528.5V534.5"/>
<path class="p" d="M187 536.5L190 535L193 536.5V546M199.5 546.5V538L203.5 536V544.5M206.5 543V535.5L209.5 534"/>
<path class="p" d="M180 548.5L179 551L185.5 554.2L188 553"/>
<path class="pw" d="M220.7 582V597.8H224.8V582"/>
<line class="pt" x1="220.7" y1="585" x2="224.8" y2="585.8"/>
<line class="pt" x1="220.7" y1="587" x2="224.8" y2="587.8"/>
<line class="pt" x1="220.7" y1="589" x2="224.8" y2="589.8"/>
<line class="pt" x1="220.7" y1="591" x2="224.8" y2="591.8"/>
<line class="pt" x1="220.7" y1="593" x2="224.8" y2="593.8"/>
<line class="pt" x1="220.7" y1="595" x2="224.8" y2="595.8"/>
<path class="pw" d="M218.6 580V582.3A4 2.2 0 0 0 226.6 582.3V580"/>
<ellipse class="pw" cx="222.6" cy="580" rx="4" ry="2.2"/>
<path class="pw" d="M227.8 606L224.8 607.4L216.7 617L218 623Q232 637 269.3 642.2Q300 640 318.5 620.5L320.4 614L313.7 607.4"/>
<path class="p" d="M216.7 617Q232 633 269.3 638.5Q300 635 320.4 614"/>
<ellipse class="p" cx="222.6" cy="617.3" rx="1.6" ry="1"/>
<ellipse class="p" cx="269.3" cy="639.7" rx="1.8" ry="1"/>
<ellipse class="p" cx="317.2" cy="616" rx="1.5" ry="1"/>
<path class="pw" d="M227.8 580V614Q240 632 269.3 636.3Q298 634 313.4 612V586"/>
<ellipse class="pw" cx="270" cy="582.5" rx="42.4" ry="20" transform="rotate(4 270 582.5)"/>
<ellipse class="p" cx="270" cy="582.3" rx="40" ry="17.6" transform="rotate(4 270 582.3)"/>
<polyline class="pw" points="249.9,562.2 249.9,564.4 253.3,568 260.1,568 263.5,564.4 263.5,562.2"/>
<polygon class="pw" points="249.9,562.2 253.3,558.6 260.1,558.6 263.5,562.2 260.1,565.8 253.3,565.8"/>
<line class="p" x1="253.3" y1="565.8" x2="253.3" y2="568"/>
<line class="p" x1="260.1" y1="565.8" x2="260.1" y2="568"/>
<ellipse class="p" cx="256.7" cy="562.2" rx="3.4" ry="2"/>
<ellipse class="p" cx="256" cy="586" rx="4.5" ry="2.2"/>
<ellipse class="p" cx="282.6" cy="573.3" rx="4.5" ry="2.2"/>
<polyline class="pw" points="295.3,571.5 295.3,572.8 297.5,575.1 301.8,575.1 303.9,572.8 303.9,571.5"/>
<polygon class="pw" points="295.3,571.5 297.5,569.2 301.8,569.2 303.9,571.5 301.8,573.8 297.5,573.8"/>
<line class="p" x1="297.5" y1="573.8" x2="297.5" y2="575.1"/>
<line class="p" x1="301.8" y1="573.8" x2="301.8" y2="575.1"/>
<ellipse class="p" cx="299.6" cy="571.5" rx="2.1" ry="1.3"/>
<polyline class="pw" points="293.1,583.3 293.1,584.6 295.2,586.9 299.5,586.9 301.7,584.6 301.7,583.3"/>
<polygon class="pw" points="293.1,583.3 295.2,581 299.5,581 301.7,583.3 299.5,585.6 295.2,585.6"/>
<line class="p" x1="295.2" y1="585.6" x2="295.2" y2="586.9"/>
<line class="p" x1="299.5" y1="585.6" x2="299.5" y2="586.9"/>
<ellipse class="p" cx="297.4" cy="583.3" rx="2.1" ry="1.3"/>
<path class="pt" d="M238.5 575V578"/>
<polyline class="pw" points="275,548.6 275,550.8 278,554.3 284,554.3 287,550.8 287,548.6"/>
<polygon class="pw" points="275,548.6 278,545.1 284,545.1 287,548.6 284,552.1 278,552.1"/>
<line class="p" x1="278" y1="552.1" x2="278" y2="554.3"/>
<line class="p" x1="284" y1="552.1" x2="284" y2="554.3"/>
<ellipse class="p" cx="281" cy="548.6" rx="3" ry="1.9"/>
<ellipse class="pw" cx="296.7" cy="538.6" rx="3.8" ry="2.2"/><ellipse class="p" cx="296.7" cy="538.6" rx="2.2" ry="1.1"/>
<path class="p" d="M293 593.5V631M297.4 593.5V620"/>
<ellipse class="pw" cx="295.2" cy="593.3" rx="2.2" ry="1.1"/>
<polygon class="pw" points="297.4,599.3 310.7,593.3 312.3,611 298.9,617"/>
<ellipse class="p" cx="304.3" cy="606.3" rx="4.6" ry="5.6" transform="rotate(15 304.3 606.3)"/>
<ellipse cx="304.5" cy="606.5" rx="2.6" ry="3.6" fill="#8a8a8a" stroke="#333" stroke-width=".8" transform="rotate(15 304.5 606.5)"/>
<ellipse class="pw" cx="334.6" cy="620.5" rx="5.2" ry="7.6" transform="rotate(28 334.6 620.5)"/><ellipse class="p" cx="334.6" cy="620.5" rx="3" ry="3.8" transform="rotate(28 334.6 620.5)"/>
<ellipse class="pw" cx="256.2" cy="658" rx="6.6" ry="3.2"/><ellipse class="p" cx="256.2" cy="658" rx="3.8" ry="1.6"/>
<ellipse class="pw" cx="282.5" cy="670.5" rx="6.6" ry="3.2"/><ellipse class="p" cx="282.5" cy="670.5" rx="3.8" ry="1.6"/>
<polygon class="pw" points="213.7,794 222,784 236,774 262,767.5 277,767 305.7,774 316,783 322.5,792.5 322,798.5 276,820.5 264,821 214.5,799.5"/>
<polyline class="p" points="213.7,794 263.5,816 276,815.5 322.5,792.5"/>
<line class="p" x1="263.5" y1="816" x2="264" y2="821"/>
<line class="p" x1="276" y1="815.5" x2="276" y2="820.5"/>
<ellipse class="p" cx="270" cy="789.5" rx="43" ry="16.5"/>
<ellipse class="p" cx="270" cy="790.5" rx="40" ry="14.5"/>
<ellipse class="pt" cx="270" cy="791.5" rx="37.5" ry="13"/>
<path class="pt" d="M232 792Q236 806 270 808Q304 806 308 792"/>
<ellipse class="p" cx="270" cy="770.3" rx="1.7" ry="1.1"/>
<ellipse class="p" cx="270" cy="814.6" rx="1.8" ry="1.1"/>
<ellipse class="p" cx="270" cy="769.5" rx="44.5" ry="19.5"/>
<ellipse class="p" cx="270" cy="769.5" rx="42" ry="17.4"/>
<path class="pw" d="M247.5 748V754.5Q256 759.5 266 759.5Q278 759.5 285 754.5V748"/>
<ellipse class="pw" cx="270.4" cy="741.9" rx="27.5" ry="13.6"/>
<ellipse class="pw" cx="270.4" cy="737.3" rx="27.5" ry="13.6"/>
<ellipse class="pw" cx="270.4" cy="732.7" rx="27.5" ry="13.6"/>
<ellipse class="pw" cx="270.4" cy="728.1" rx="27.5" ry="13.6"/>
<ellipse class="pw" cx="270.4" cy="723.5" rx="27.5" ry="13.6"/>
<ellipse class="p" cx="270.4" cy="723.5" rx="24.3" ry="11.6"/>
<ellipse class="p" cx="270.4" cy="724" rx="21" ry="9.8"/>
<ellipse class="p" cx="270.4" cy="724.5" rx="17.8" ry="8"/>
<polygon class="pw" points="254.7,699 254.7,699.8 254.7,700.8 254.7,702 254.7,703.3 254.7,704.7 254.7,706.2 254.7,707.8 254.7,709.4 254.7,710.9 254.7,712.4 254.7,713.8 254.7,715 254.7,716.1 254.7,717.2 254.6,718.3 254.6,719.3 254.6,720.4 254.5,721.4 254.5,722.4 254.5,723.4 254.5,724.4 254.5,725.4 254.6,726.4 254.7,727.4 254.9,728.3 255,729.1 255.2,730 255.4,730.8 255.6,731.6 255.9,732.5 256.2,733.2 256.5,734 256.9,734.8 257.4,735.5 257.9,736.2 258.4,736.9 259.1,737.5 259.8,738.1 260.5,738.6 261.2,739.1 262,739.5 262.8,739.9 263.6,740.2 264.4,740.5 265.2,740.8 266,741 266.8,741.2 267.7,741.3 268.5,741.4 269.4,741.4 270.2,741.3 271.1,741.2 271.9,741.1 272.7,741 273.5,740.8 274.3,740.6 275,740.3 275.7,740.1 276.4,739.8 277.1,739.6 277.7,739.3 278.4,739 279,738.6 279.6,738.3 280.2,737.9 280.8,737.5 281.4,737.1 281.9,736.6 282.4,736.2 282.9,735.7 283.3,735.2 283.7,734.8 283.9,734.4 284.2,734.2 284.4,733.9 284.7,733.4 285,732.9 285.2,732.4 285.4,731.8 285.5,731.2 285.6,730.6 285.7,729.9 285.7,729.1 285.8,728.2 285.9,726.9 285.9,725.5 285.9,723.8 285.9,722 285.9,720.1 285.9,718.2 285.9,716.3 285.9,714.4 285.8,712.7 285.8,711.2 285.8,709.9 285.8,709 280.2,709 280.2,710 280.2,711.3 280.2,712.8 280.3,714.5 280.3,716.3 280.3,718.2 280.3,720.1 280.3,722 280.3,723.8 280.3,725.4 280.3,726.8 280.2,727.8 280.1,728.7 280.1,729.4 280,729.9 280,730.3 280,730.5 280,730.5 280,730.5 280,730.4 280,730.4 279.8,730.6 279.6,730.9 279.3,731.2 279.1,731.5 278.8,731.8 278.5,732.1 278.2,732.4 277.9,732.7 277.5,733 277.1,733.2 276.7,733.5 276.3,733.8 275.8,734 275.4,734.2 274.9,734.4 274.4,734.6 273.9,734.8 273.3,735 272.7,735.2 272.1,735.3 271.5,735.5 270.9,735.6 270.4,735.7 269.8,735.7 269.3,735.8 268.8,735.8 268.3,735.7 267.8,735.6 267.3,735.5 266.7,735.4 266.2,735.2 265.6,735 265.1,734.8 264.6,734.5 264.1,734.3 263.6,734 263.2,733.7 262.9,733.4 262.6,733.1 262.3,732.8 262,732.4 261.8,732 261.6,731.6 261.4,731.1 261.2,730.6 261,730 260.8,729.4 260.7,728.8 260.5,728.1 260.4,727.4 260.3,726.6 260.2,725.9 260.1,725.1 260.1,724.3 260.1,723.4 260.1,722.5 260.1,721.6 260.1,720.6 260.2,719.6 260.2,718.5 260.3,717.4 260.3,716.2 260.3,715 260.3,713.8 260.3,712.4 260.3,710.9 260.3,709.4 260.3,707.8 260.3,706.2 260.3,704.7 260.3,703.3 260.3,702 260.3,700.8 260.3,699.8 260.3,699"/>
<path class="pw" d="M256.2 684V668.5Q256.2 667 257.7 667T259.2 668.5V684"/>
<path class="pw" d="M254.7 690V684H260.7V690"/>
<polyline class="pw" points="250.3,691.5 250.3,693.9 253.9,697.1 261.1,697.1 264.7,693.9 264.7,691.5"/>
<polygon class="pw" points="250.3,691.5 253.9,688.3 261.1,688.3 264.7,691.5 261.1,694.7 253.9,694.7"/>
<line class="p" x1="253.9" y1="694.7" x2="253.9" y2="697.1"/>
<line class="p" x1="261.1" y1="694.7" x2="261.1" y2="697.1"/>
<ellipse class="p" cx="257.5" cy="691.5" rx="3.6" ry="1.8"/>
<path class="pw" d="M281.7 691.5V682Q281.7 680.8 283 680.8T284.3 682V691.5"/>
<path class="pw" d="M280.4 702V691.5H285.6V702"/>
<line class="pt" x1="280.4" y1="693.5" x2="285.6" y2="694.1"/>
<line class="pt" x1="280.4" y1="695.5" x2="285.6" y2="696.1"/>
<line class="pt" x1="280.4" y1="697.5" x2="285.6" y2="698.1"/>
<line class="pt" x1="280.4" y1="699.5" x2="285.6" y2="700.1"/>
<polyline class="pw" points="275.4,704.3 275.4,706.9 279.2,710.3 286.8,710.3 290.6,706.9 290.6,704.3"/>
<polygon class="pw" points="275.4,704.3 279.2,700.9 286.8,700.9 290.6,704.3 286.8,707.7 279.2,707.7"/>
<line class="p" x1="279.2" y1="707.7" x2="279.2" y2="710.3"/>
<line class="p" x1="286.8" y1="707.7" x2="286.8" y2="710.3"/>
<ellipse class="p" cx="283" cy="704.3" rx="3.8" ry="1.9"/>
<path class="p" d="M227.5 805.5V836Q236 850 270 851.5Q304 850 312.5 836V803"/>
<path class="pt" d="M229.5 836Q238 847.5 270 849Q302 847.5 310.5 836"/>
<polyline class="pw" points="217.7,843 217.7,846.2 220.1,848.8 224.9,848.8 227.3,846.2 227.3,843"/>
<polygon class="pw" points="217.7,843 220.1,840.4 224.9,840.4 227.3,843 224.9,845.6 220.1,845.6"/>
<line class="p" x1="220.1" y1="845.6" x2="220.1" y2="848.8"/>
<line class="p" x1="224.9" y1="845.6" x2="224.9" y2="848.8"/>
<ellipse class="p" cx="222.5" cy="843" rx="2.4" ry="1.4"/>
<path class="pw" d="M268.6 915V896Q268.6 895 270 895T271.4 896V915"/>
<path class="pw" d="M265 923V917.5Q265 915.5 270 915.5T275 917.5V922"/>
<line class="pt" x1="265" y1="917.5" x2="275" y2="917.2"/>
<line class="pt" x1="265" y1="919.3" x2="275" y2="919"/>
<line class="pt" x1="265" y1="921" x2="275" y2="920.7"/>
<path class="pw" d="M263.8 927V922.3H276V923.5"/>
<polygon class="pw" points="253.5,932.5 284.5,921 288,922.5 289,927 287,929.5 256.5,941 252.8,939.8 251.8,935.5"/>
<path class="p" d="M258.5 930.8L260.3 939.4M282 922L283.8 930.7M279.5 923L281.2 931.7"/>
<path class="p" d="M262 929.4Q266 925.5 276 924.3"/>
<ellipse class="p" cx="275" cy="932.5" rx="1.8" ry="2.2"/>
<path class="l" d="M250 941 C249.5 942.5 246.8 947.3 247 950 C247.2 952.7 248.5 955.2 251 957 C253.5 958.8 258.8 959.6 262 961 C265.2 962.4 269.3 964 270.5 965.5 C271.7 967 269.8 968.9 269 970 C268.2 971.1 266.1 971.7 265.5 972"/>
<polygon class="pw" points="255.8,969.5 259.5,967.5 264.5,968.5 265.8,973.5 262.5,977.5 257.5,977 255.3,973.5"/>
<path class="p" d="M259.5 967.5L258.7 972L257.5 977M258.7 972L262.8 973L265.8 973.5M262.8 973L262.5 977.5"/>
<polygon class="pw" points="201.3,999 250,977 251.8,978.5 252,981 203,1003.2 200.8,1001.8"/>
<path class="pw" d="M161 1015.5L196 999.8Q199.5 1000 200.5 1003Q200.5 1006.5 198.5 1008L164 1023.5"/>
<path class="p" d="M161 1015.5Q158.8 1017.5 160.2 1021Q162 1024 164 1023.5"/>
<path class="pt" d="M161 1015.5Q164 1016 165 1019.5Q165.3 1022 164 1023.5"/>
<polygon class="pw" points="141,1027 147.5,1024 150,1031 143.5,1034.5"/>
<path class="pt" d="M143 1026L145.5 1033.4M145 1025.2L147.5 1032.4"/>
<polygon class="pw" points="147,1022.5 150.5,1021 155,1022.5 156.5,1027.5 154,1032 150,1033 148.5,1029"/>
<path class="p" d="M150.5 1021L151.5 1027L150 1033M151.5 1027L156.5 1027.5"/>
<path class="l" d="M153 1033 C153.8 1034.8 156.8 1041.2 158 1044 C159.2 1046.8 159.7 1048 160 1050 C160.3 1052 160 1055 160 1056"/>
<path class="l" d="M187.5 1014 C188.9 1017.5 193.9 1029.4 196 1035 C198.1 1040.6 199.3 1044 200 1047.5 C200.7 1051 200 1054.6 200 1056"/>
<path class="l" d="M236 988 C238.3 992 246.2 1005.4 250 1012 C253.8 1018.6 257.2 1023.8 258.7 1027.5 C260.2 1031.2 258.9 1033.3 258.9 1034.5"/>
<path class="l" d="M263.7 978.7 C265.1 982.8 269.5 995.7 272 1003 C274.5 1010.3 277.6 1017.7 278.7 1022.5 C279.8 1027.3 278.9 1030.4 278.9 1032"/>
<polyline class="l" points="246,1036 252.5,1047.5 267.5,1047.5 271.2,1054 275,1047.5 286,1047.5 293.7,1036"/>
<!-- 40_midleft.py -->
<polyline class="l" points="350,118.7 358.7,110 393.7,110 400,101.5 403.7,110 441.2,110 448.7,117.5"/>
<path class="l" d="M363.2 125 C363.7 127.5 359.8 108.7 366 140 C372.2 171.3 394.8 284.2 400.5 313"/>
<path class="l" d="M387.5 125 C387.8 127.5 386.5 120.7 389 140 C391.5 159.3 400.2 224.2 402.5 241"/>
<path class="l" d="M411.2 125 C411.3 130.8 411.4 142.2 411.6 160 C411.8 177.8 412.4 220 412.5 232"/>
<path class="l" d="M435.7 125 C435.6 130.8 435.8 142.9 435.3 160 C434.8 177.1 433 216.2 432.5 227.5"/>
<polyline class="l" points="428.7,288 442,229.5"/>
<path class="d" d="M370 261 C368.3 261.7 362.7 262.2 360 265 C357.3 267.8 352.9 273.8 353.7 277.5 C354.5 281.2 358.9 285.4 365 287.5 C371.1 289.6 383.6 288.3 390 290 C396.4 291.7 401.1 293.8 403.7 297.5 C406.3 301.2 405.2 310 405.5 312.5"/>
<polyline class="d" points="445,225 451,222.3"/>
<polyline class="d" points="357.7,330 357.7,336"/>
<polyline class="d" points="358.7,404 358.7,412.5 293,443.5"/>
<path class="d" d="M405.5 382.5 C405.5 387.5 404.3 402.1 405.5 412.5 C406.7 422.9 407.2 433.3 412.5 445 C417.8 456.7 432.8 474.8 437.5 482.5 C442.2 490.2 440.9 488.1 440.5 491 C440.1 493.9 439.2 496.9 435 500 C430.8 503.1 418.3 507.9 415 509.5"/>
<polyline class="d" points="428.5,505.5 436,502"/>
<path class="pw" d="M369.4 263.1 L408.9 245.6 A0.7 1.8 -23.9 0 0 407.5 242.4 L368 259.9 A0.7 1.8 -23.9 0 0 369.4 263.1 Z"/>
<ellipse class="p" cx="408.2" cy="244" rx="0.7" ry="1.8" transform="rotate(-23.9 408.2 244)"/>
<path class="pw" d="M416.5 245.3 L426 241.1 A2.2 5 -23.9 0 0 422 231.9 L412.5 236.1 A2.2 5 -23.9 0 0 416.5 245.3 Z"/>
<ellipse class="p" cx="414.5" cy="240.7" rx="2.2" ry="5" transform="rotate(-23.9 414.5 240.7)"/>
<line class="pt" x1="416.3" y1="236.9" x2="424.6" y2="233.2"/>
<line class="pt" x1="416.3" y1="238.7" x2="424.6" y2="235"/>
<line class="pt" x1="416.3" y1="240.5" x2="424.6" y2="236.8"/>
<line class="pt" x1="416.3" y1="242.3" x2="424.6" y2="238.6"/>
<line class="pt" x1="416.3" y1="243.9" x2="424.6" y2="240.2"/>
<ellipse class="p" cx="414.5" cy="240.7" rx="1.1" ry="2.4" transform="rotate(-24 414.5 240.7)"/>
<path class="pw" d="M432.4 235.3 L437.4 233 A1.5 3.3 -24.7 0 0 434.6 227 L429.6 229.3 A1.5 3.3 -24.7 0 0 432.4 235.3 Z"/>
<ellipse class="p" cx="431" cy="232.3" rx="1.5" ry="3.3" transform="rotate(-24.7 431 232.3)"/>
<ellipse class="p" cx="431" cy="232.3" rx="0.9" ry="1.9" transform="rotate(-24 431 232.3)"/>
<ellipse class="pw" cx="442.3" cy="226.7" rx="2.1" ry="2.8" transform="rotate(-24 442.3 226.7)"/>
<ellipse class="p" cx="442.3" cy="226.7" rx="0.9" ry="1.3" transform="rotate(-24 442.3 226.7)"/>
<path class="pw" d="M398.8 316.5 L398.8 348 A6.5 2.4 0 0 0 411.8 348 L411.8 316.5"/><ellipse class="pw" cx="405.3" cy="316.5" rx="6.5" ry="2.4"/>
<ellipse class="pt" cx="405.3" cy="316.5" rx="3.8" ry="1.3"/>
<path class="pw" d="M398.8 355.5Q401 353.3 405.3 354.2Q409.5 353.3 411.8 355.5V379.5A6.5 2.4 0 0 1 398.8 379.5Z"/>
<path class="pw" d="M352.9 337 L352.9 365.5 A4.8 1.7 0 0 0 362.5 365.5 L362.5 337"/><ellipse class="pw" cx="357.7" cy="337" rx="4.8" ry="1.7"/>
<path class="pw" d="M353 376Q355 374.3 357.7 375.3Q360.5 374.3 362.5 376V401.5A4.8 1.8 0 0 1 353 401.5Z"/>
<path class="l" d="M362.5 403.7 C364.6 408.4 371.9 424.7 375 432 C378.1 439.3 379.9 443.1 381.2 447.5 C382.5 451.9 382.7 456.8 383 458.7"/>
<path class="pw" d="M396.1 522.1 L428.6 507.1 A0.6 1.5 -24.8 0 0 427.4 504.3 L394.9 519.3 A0.6 1.5 -24.8 0 0 396.1 522.1 Z"/>
<ellipse class="p" cx="428" cy="505.7" rx="0.6" ry="1.5" transform="rotate(-24.8 428 505.7)"/>
<path class="pw" d="M403.2 537.3 L429.2 548 A1.8 4.6 22.4 0 0 432.8 539.4 L406.8 528.7 A1.8 4.6 22.4 0 0 403.2 537.3 Z"/>
<path class="pw" d="M431.9 553 L454.9 561.5 A1.8 4.6 20.3 0 0 458.1 552.9 L435.1 544.4 A1.8 4.6 20.3 0 0 431.9 553 Z"/>
<ellipse class="p" cx="456.5" cy="557.2" rx="1.8" ry="4.6" transform="rotate(20.3 456.5 557.2)"/>
<path class="l" d="M450 533 C450.3 535.3 449.8 538.9 451.7 546.7 C453.6 554.5 458.6 571.1 461.7 580 C464.8 588.9 468.6 596.7 470 600"/>
<path class="pw" d="M346.3 550.6 L377.3 559.6 A1.7 4.3 16.2 0 0 379.7 551.4 L348.7 542.4 A1.7 4.3 16.2 0 0 346.3 550.6 Z"/>
<polyline class="p" points="336,531.5 342,535"/>
<path class="pw" d="M357 524Q360 520.5 366 522L373 524.5L383.5 519.8Q388 519.5 390.5 523Q392.5 527.5 390 530.5L378.5 536.5Q376 538 373 537L356.5 530.5Q354 527 357 524Z"/>
<path class="p" d="M383.5 519.8Q381.5 522 383 526Q385 530 390 530.5"/>
<ellipse class="p" cx="373.5" cy="529.5" rx="2.5" ry="1.7" transform="rotate(20 373.5 529.5)"/>
<path class="p" d="M368.5 535.5L362 540"/>
<ellipse class="pw" cx="350" cy="505" rx="4.6" ry="5.6" transform="rotate(20 350 505)"/>
<ellipse cx="350" cy="505" rx="3" ry="4" fill="#777" stroke="#222" stroke-width="1" transform="rotate(20 350 505)"/>
<path class="pw" d="M356.6 512.2 L362.1 514.7 A1.8 3.5 24.4 0 0 364.9 508.3 L359.4 505.8 A1.8 3.5 24.4 0 0 356.6 512.2 Z"/>
<ellipse class="p" cx="358" cy="509" rx="1.8" ry="3.5" transform="rotate(24.4 358 509)"/>
<path class="pw" d="M363 514.6 L375 519.6 A1.2 2.5 22.6 0 0 377 515 L365 510 A1.2 2.5 22.6 0 0 363 514.6 Z"/>
<ellipse class="p" cx="376" cy="517.3" rx="1.2" ry="2.5" transform="rotate(22.6 376 517.3)"/>
<line class="pt" x1="366" y1="511.6" x2="364.8" y2="516.1"/>
<line class="pt" x1="368" y1="512.5" x2="366.8" y2="517"/>
<line class="pt" x1="370" y1="513.3" x2="368.8" y2="517.8"/>
<line class="pt" x1="372" y1="514.2" x2="370.8" y2="518.7"/>
<line class="pt" x1="374" y1="515" x2="372.8" y2="519.5"/>
<ellipse class="pw" cx="311.7" cy="524.3" rx="5" ry="6.3" transform="rotate(20 311.7 524.3)"/>
<ellipse class="p" cx="311.7" cy="524.3" rx="2.8" ry="3.8" transform="rotate(20 311.7 524.3)"/>
<path class="pt" d="M308 521L315.5 527.5M314.5 520L309 528.5"/>
<path class="pw" d="M317.9 532.4 L324.9 535.2 A2.1 4.2 21.8 0 0 328.1 527.4 L321.1 524.6 A2.1 4.2 21.8 0 0 317.9 532.4 Z"/>
<ellipse class="p" cx="319.5" cy="528.5" rx="2.1" ry="4.2" transform="rotate(21.8 319.5 528.5)"/>
<ellipse class="p" cx="321.5" cy="529.3" rx="2" ry="4.2" transform="rotate(22 321.5 529.3)"/>
<path class="pw" d="M326.5 534.4 L338.5 538.9 A1.4 2.8 20.6 0 0 340.5 533.7 L328.5 529.2 A1.4 2.8 20.6 0 0 326.5 534.4 Z"/>
<ellipse class="p" cx="339.5" cy="536.3" rx="1.4" ry="2.8" transform="rotate(20.6 339.5 536.3)"/>
<line class="pt" x1="329" y1="530.4" x2="327.8" y2="535.6"/>
<line class="pt" x1="331" y1="531.1" x2="329.8" y2="536.3"/>
<line class="pt" x1="333" y1="531.9" x2="331.8" y2="537.1"/>
<line class="pt" x1="335" y1="532.6" x2="333.8" y2="537.9"/>
<line class="pt" x1="337" y1="533.4" x2="335.8" y2="538.6"/>
<!-- 45_center.py -->
<polyline class="d" points="436.2,722 436.2,913"/>
<polyline class="d" points="488.7,745 488.7,753"/>
<polyline class="d" points="528.7,745 528.7,773"/>
<polyline class="d" points="488.5,640 488.5,655"/>
<polyline class="d" points="514.3,614 514.3,625"/>
<polyline class="d" points="548,588 600,614 664,634"/>
<path class="d" d="M702 587.5 C701.7 591.2 702 603.2 700 610 C698 616.8 694.7 623 690 628 C685.3 633 677.8 637.7 672 640 C666.2 642.3 657.8 641.7 655 642"/>
<path class="d" d="M540 595 C548.3 599.2 573.3 609.2 590 620 C606.7 630.8 631.7 653.3 640 660"/>
<path class="pw" d="M444 684L438 688L426 700L427.5 710L499 745H521L588.7 707.5L589 699L578 687L575 686"/>
<path class="p" d="M426 700L499 737.5H521L589 699"/>
<line class="p" x1="499" y1="737.5" x2="499" y2="745"/>
<line class="p" x1="521" y1="737.5" x2="521" y2="745"/>
<ellipse class="p" cx="437.5" cy="700.7" rx="2.4" ry="1.4"/>
<ellipse class="p" cx="508.7" cy="736" rx="2.6" ry="1.4"/>
<ellipse class="p" cx="580" cy="700" rx="2.4" ry="1.4"/>
<path class="pw" d="M443.9 648V706Q460 731 509.5 735Q559 731 575 708V648"/>
<ellipse class="pw" cx="509.5" cy="648" rx="65.6" ry="31.7"/>
<ellipse class="p" cx="509.5" cy="648" rx="62.5" ry="29"/>
<polyline class="pw" points="480.7,631.5 480.7,634.1 484.5,638.1 492.1,638.1 495.9,634.1 495.9,631.5"/>
<polygon class="pw" points="480.7,631.5 484.5,627.5 492.1,627.5 495.9,631.5 492.1,635.5 484.5,635.5"/>
<line class="p" x1="484.5" y1="635.5" x2="484.5" y2="638.1"/>
<line class="p" x1="492.1" y1="635.5" x2="492.1" y2="638.1"/>
<ellipse class="p" cx="488.3" cy="631.5" rx="3.8" ry="2.2"/>
<ellipse class="p" cx="488.9" cy="657" rx="4" ry="2"/>
<polyline class="pw" points="506.9,606.5 506.9,609.1 510.6,612.9 518,612.9 521.7,609.1 521.7,606.5"/>
<polygon class="pw" points="506.9,606.5 510.6,602.7 518,602.7 521.7,606.5 518,610.3 510.6,610.3"/>
<line class="p" x1="510.6" y1="610.3" x2="510.6" y2="612.9"/>
<line class="p" x1="518" y1="610.3" x2="518" y2="612.9"/>
<ellipse class="p" cx="514.3" cy="606.5" rx="3.7" ry="2.1"/>
<path class="pw" d="M433.7 661V679.5H439.3V661"/>
<line class="pt" x1="433.7" y1="664" x2="439.3" y2="664.7"/>
<line class="pt" x1="433.7" y1="666" x2="439.3" y2="666.7"/>
<line class="pt" x1="433.7" y1="668" x2="439.3" y2="668.7"/>
<line class="pt" x1="433.7" y1="670" x2="439.3" y2="670.7"/>
<line class="pt" x1="433.7" y1="672" x2="439.3" y2="672.7"/>
<line class="pt" x1="433.7" y1="674" x2="439.3" y2="674.7"/>
<line class="pt" x1="433.7" y1="676" x2="439.3" y2="676.7"/>
<line class="pt" x1="433.7" y1="678" x2="439.3" y2="678.7"/>
<path class="pw" d="M431.8 657.5V660.5A4.7 2.2 0 0 0 441.2 660.5V657.5"/>
<ellipse class="pw" cx="436.5" cy="657.5" rx="4.7" ry="2.2"/>
<ellipse class="pt" cx="436.5" cy="657.5" rx="2.2" ry="1"/>
<g transform="translate(263.8 435.6) scale(.93)"><polygon class="pw" points="250.5,229.8 251.1,247.2 272.2,258 328.1,229.8 327.5,214.1 273.4,240.6"/>
<polyline class="p" points="250.5,229.8 273.4,240.6 272.2,258"/>
<polygon class="pw" points="296.8,190.6 307.7,185.2 325.7,194.3 327.5,214 313,221 297,212"/>
<polyline class="p" points="296.8,190.6 311.3,199.1 312.5,220"/>
<polyline class="p" points="311.3,199.1 325.7,194.3"/>
<ellipse class="pw" cx="307" cy="191.4" rx="6" ry="3.2"/>
<polygon class="p" points="301.5,190.2 304,188 310,188 312.5,190.2 310,192.8 304,192.8"/>
<polygon class="pt" points="315.5,203 323,200.5 324,212 316.5,215"/>
<polygon class="p" points="317.5,206 321,205 322,209.5 319,211"/>
<polyline class="p" points="325,199 329,200.5 329,204"/>
<polygon class="pw" points="268.6,197.3 286,188.2 310,199.1 313.1,228 293.8,237.5 269,215"/>
<polyline class="p" points="268.6,197.3 293.2,208.7 310,199.1"/>
<polyline class="p" points="293.2,208.7 293.8,237"/>
<ellipse class="pw" cx="287.2" cy="197" rx="7.2" ry="3.9"/>
<polygon class="p" points="280.8,195.8 283.7,193.2 290.7,193.2 293.6,195.8 290.7,198.8 283.7,198.8"/>
<ellipse class="pt" cx="287.2" cy="195.9" rx="3" ry="1.5"/>
<polygon class="pt" points="296.5,212.5 309.5,206 311.5,226 297,232.5"/>
<polygon class="p" points="299.5,216.5 304.5,214.5 306.5,219 304.5,222.5 300.5,221.5"/>
<polyline class="p" points="307.5,210.5 313.5,212 313.5,215.5"/>
<polyline class="p" points="302,226.5 312,227.5 312.5,230"/>
<polygon class="pw" points="254.7,211.1 268.6,203.3 287.2,211.1 288.4,233 274,239.8 255.9,230.8"/>
<polyline class="p" points="254.7,211.1 272.8,219.5 287.2,211.1"/>
<polyline class="p" points="272.8,219.5 274,239.5"/>
<ellipse class="pw" cx="269.8" cy="210.3" rx="6.6" ry="3.6"/>
<polygon class="p" points="264,209.2 266.7,206.8 273,206.8 275.7,209.2 273,212 266.7,212"/>
<ellipse class="pt" cx="269.8" cy="209.2" rx="2.8" ry="1.4"/>
<polygon class="pt" points="276,223 286,218.5 287,232 277,236.5"/>
<polygon class="p" points="278.5,226.5 282.5,225 284,228.5 282.5,231.5 279.3,231"/>
<polyline class="p" points="285,222 290,223.5 290,227"/>
<polyline class="p" points="281,234 289.5,234.5 290,236.8"/>
<path class="p" d="M297.5 234.5V238.5H302V233"/>
<path class="pt" d="M297.5 236H302M297.5 237.3H302"/>
<ellipse class="p" cx="260.5" cy="246" rx="4.8" ry="6.2" transform="rotate(-12 260.5 246)"/>
<ellipse cx="260.8" cy="246.2" rx="3" ry="4.4" fill="#9a9a9a" stroke="#444" stroke-width=".8" transform="rotate(-12 260.8 246.2)"/>
<ellipse class="p" cx="280" cy="247.8" rx="3.2" ry="4.2" transform="rotate(25 280 247.8)"/>
<ellipse class="p" cx="319" cy="229" rx="3.2" ry="4.2" transform="rotate(25 319 229)"/></g>
<path class="p" d="M543.9 667V735M553 667V684"/>
<ellipse class="pw" cx="548.4" cy="666.5" rx="4.6" ry="2"/>
<ellipse class="pt" cx="548.4" cy="666.5" rx="2.4" ry="1"/>
<path class="pw" d="M550.4 683Q550.4 681 552 680L570 673.8Q572.6 673.3 573 676L576.3 703.5Q576.3 706 574.5 707.5L556 716Q553 716 552.5 713Z"/>
<ellipse class="p" cx="559.8" cy="688.7" rx="6.2" ry="8" transform="rotate(15 559.8 688.7)"/>
<ellipse cx="560" cy="689" rx="3.4" ry="4.8" fill="#8a8a8a" stroke="#333" stroke-width=".9" transform="rotate(15 560 689)"/>
<ellipse class="p" cx="560" cy="689" rx="1.6" ry="2.4" transform="rotate(15 560 689)"/>
<path class="pw" d="M445 886V928Q460 949 509.5 950.5Q559 949 573.7 929V888"/>
<path class="pt" d="M447.5 928Q462 946.5 509.5 948Q557 946.5 571.5 929"/>
<path class="pw" d="M455 849L435.5 853L424 862L428 872.4L500 907H518L585 872.4L587 862L580 851L562 848Z"/>
<path class="p" d="M424 862L505.7 898H520L587 862"/>
<line class="p" x1="505.7" y1="898" x2="500" y2="907"/>
<line class="p" x1="520" y1="898" x2="518" y2="907"/>
<ellipse class="p" cx="436.2" cy="862" rx="2.5" ry="1.4"/>
<ellipse class="p" cx="508.7" cy="897.5" rx="2.8" ry="1.5"/>
<ellipse class="p" cx="580" cy="861.5" rx="2.5" ry="1.4"/>
<path class="p" d="M447 858Q450 886 508.7 890.5Q568 886 571 858"/>
<path class="p" d="M451 862Q456 883 508.7 887Q562 883 567 862"/>
<path class="pt" d="M456 866Q463 880 508.7 883Q555 880 562 866"/>
<ellipse class="p" cx="509" cy="845.5" rx="66" ry="30"/>
<ellipse class="p" cx="509" cy="845.5" rx="63.3" ry="27.6"/>
<path class="pw" d="M478 858V866Q490 873.5 508.5 874Q527 873.5 539 866V858"/>
<ellipse class="pw" cx="508.5" cy="852.6" rx="39.7" ry="19.5"/>
<ellipse class="pw" cx="508.5" cy="847.5" rx="39.7" ry="19.5"/>
<ellipse class="pw" cx="508.5" cy="842.4" rx="39.7" ry="19.5"/>
<ellipse class="pw" cx="508.5" cy="837.3" rx="39.7" ry="19.5"/>
<ellipse class="pw" cx="508.5" cy="832.2" rx="39.7" ry="19.5"/>
<ellipse class="pw" cx="508.5" cy="827.1" rx="39.7" ry="19.5"/>
<ellipse class="pw" cx="508.5" cy="822" rx="39.7" ry="19.5"/>
<ellipse class="p" cx="508.5" cy="822" rx="35.5" ry="17"/>
<ellipse class="p" cx="508.5" cy="822.5" rx="31.5" ry="14.8"/>
<ellipse class="p" cx="508.5" cy="823" rx="27.5" ry="12.4"/>
<polygon class="pw" points="486.4,781 486.4,781.9 486.4,783.1 486.4,784.4 486.4,785.9 486.4,787.5 486.4,789.2 486.4,791.1 486.4,792.9 486.4,794.7 486.4,796.6 486.4,798.3 486.4,800 486.4,801.6 486.4,803.3 486.3,805 486.3,806.7 486.2,808.5 486.2,810.2 486.1,812 486.1,813.7 486.1,815.5 486.2,817.1 486.3,818.7 486.4,820.3 486.6,821.7 486.7,823.1 486.9,824.5 487.1,825.9 487.4,827.2 487.7,828.5 488,829.8 488.3,831 488.8,832.2 489.3,833.4 489.8,834.5 490.5,835.6 491.2,836.7 492,837.6 492.9,838.6 493.8,839.4 494.7,840.2 495.7,840.9 496.8,841.5 497.8,842.1 498.9,842.7 500,843.1 501.1,843.5 502.2,843.9 503.4,844.2 504.6,844.4 505.9,844.5 507.2,844.6 508.5,844.6 509.7,844.5 511,844.4 512.2,844.3 513.4,844.1 514.6,843.9 515.7,843.7 516.8,843.4 517.8,843.1 518.9,842.7 519.9,842.3 520.8,841.9 521.8,841.4 522.7,840.8 523.6,840.3 524.4,839.7 525.2,839 526,838.4 526.7,837.6 527.3,836.9 527.8,836.3 528.3,835.6 528.8,834.9 529.2,834.2 529.5,833.4 529.8,832.6 530.1,831.8 530.3,830.9 530.4,829.9 530.5,828.8 530.7,827.6 530.8,826.2 530.9,824.5 531,822.5 531,820.3 531,817.9 531,815.4 531,812.9 530.9,810.4 530.9,808 530.9,805.8 530.8,803.9 530.8,802.2 530.8,801 524.8,801 524.8,802.3 524.8,804 524.9,805.9 524.9,808.1 524.9,810.5 525,813 525,815.5 525,817.9 525,820.3 525,822.4 524.9,824.3 524.8,825.8 524.7,827 524.6,828.1 524.5,829 524.4,829.8 524.2,830.4 524.1,830.8 524,831.2 523.8,831.5 523.6,831.8 523.4,832.2 523.1,832.6 522.7,833.1 522.3,833.6 521.8,834 521.3,834.5 520.8,834.9 520.2,835.3 519.6,835.7 518.9,836.1 518.2,836.5 517.5,836.8 516.7,837.1 516,837.4 515.2,837.6 514.4,837.8 513.4,838 512.5,838.2 511.5,838.3 510.4,838.5 509.4,838.5 508.4,838.6 507.3,838.6 506.4,838.5 505.4,838.4 504.6,838.3 503.8,838.1 503,837.9 502.2,837.6 501.4,837.2 500.6,836.8 499.8,836.4 499.1,835.9 498.4,835.4 497.7,834.9 497.1,834.3 496.5,833.7 496,833 495.5,832.4 495.1,831.7 494.7,830.9 494.4,830.1 494,829.1 493.8,828.2 493.5,827.1 493.3,826 493.1,824.9 492.9,823.7 492.7,822.4 492.5,821.1 492.4,819.7 492.3,818.3 492.2,816.9 492.1,815.3 492.1,813.7 492.1,812.1 492.2,810.4 492.2,808.6 492.3,806.9 492.3,805.1 492.4,803.4 492.4,801.7 492.4,800 492.4,798.3 492.4,796.6 492.4,794.7 492.4,792.9 492.4,791.1 492.4,789.2 492.4,787.5 492.4,785.9 492.4,784.4 492.4,783.1 492.4,781.9 492.4,781"/>
<path class="pw" d="M487.9 766V755Q487.9 753.5 489.4 753.5T490.9 755V766"/>
<path class="pw" d="M486.4 776V766H492.4V776"/>
<line class="pt" x1="486.4" y1="768" x2="492.4" y2="768.6"/>
<line class="pt" x1="486.4" y1="770" x2="492.4" y2="770.6"/>
<line class="pt" x1="486.4" y1="772" x2="492.4" y2="772.6"/>
<line class="pt" x1="486.4" y1="774" x2="492.4" y2="774.6"/>
<polyline class="pw" points="482.2,777 482.2,779.4 485.8,782.6 493,782.6 496.6,779.4 496.6,777"/>
<polygon class="pw" points="482.2,777 485.8,773.8 493,773.8 496.6,777 493,780.2 485.8,780.2"/>
<line class="p" x1="485.8" y1="780.2" x2="485.8" y2="782.6"/>
<line class="p" x1="493" y1="780.2" x2="493" y2="782.6"/>
<ellipse class="p" cx="489.4" cy="777" rx="3.6" ry="1.8"/>
<path class="pw" d="M526.3 786V775Q526.3 773.5 527.8 773.5T529.3 775V786"/>
<path class="pw" d="M524.8 796V786H530.8V796"/>
<line class="pt" x1="524.8" y1="788" x2="530.8" y2="788.6"/>
<line class="pt" x1="524.8" y1="790" x2="530.8" y2="790.6"/>
<line class="pt" x1="524.8" y1="792" x2="530.8" y2="792.6"/>
<line class="pt" x1="524.8" y1="794" x2="530.8" y2="794.6"/>
<polyline class="pw" points="520.4,797 520.4,799.5 524.1,802.8 531.5,802.8 535.2,799.5 535.2,797"/>
<polygon class="pw" points="520.4,797 524.1,793.7 531.5,793.7 535.2,797 531.5,800.3 524.1,800.3"/>
<line class="p" x1="524.1" y1="800.3" x2="524.1" y2="802.8"/>
<line class="p" x1="531.5" y1="800.3" x2="531.5" y2="802.8"/>
<ellipse class="p" cx="527.8" cy="797" rx="3.7" ry="1.8"/>
<polyline class="pw" points="431.2,917 431.2,920.4 433.7,923.1 438.7,923.1 441.2,920.4 441.2,917"/>
<polygon class="pw" points="431.2,917 433.7,914.3 438.7,914.3 441.2,917 438.7,919.7 433.7,919.7"/>
<line class="p" x1="433.7" y1="919.7" x2="433.7" y2="923.1"/>
<line class="p" x1="438.7" y1="919.7" x2="438.7" y2="923.1"/>
<ellipse class="p" cx="436.2" cy="917" rx="2.5" ry="1.5"/>
<ellipse class="pw" cx="465.5" cy="606.5" rx="10.5" ry="12.5" transform="rotate(-35 465.5 606.5)"/>
<ellipse class="pw" cx="462" cy="603.5" rx="10.5" ry="12.5" transform="rotate(-35 462 603.5)"/>
<line class="pt" x1="465.2" y1="619.4" x2="447" y2="602.3"/>
<line class="pt" x1="467.3" y1="617.1" x2="449.1" y2="600"/>
<line class="pt" x1="469.5" y1="614.8" x2="451.2" y2="597.7"/>
<line class="pt" x1="471.6" y1="612.5" x2="453.4" y2="595.5"/>
<line class="pt" x1="473.8" y1="610.3" x2="455.5" y2="593.2"/>
<line class="pt" x1="475.9" y1="608" x2="457.7" y2="590.9"/>
<line class="pt" x1="478" y1="605.7" x2="459.8" y2="588.6"/>
<path class="pw" d="M491.3 599 L512.3 589 A4.2 10 -25.5 0 0 503.7 571 L482.7 581 A4.2 10 -25.5 0 0 491.3 599 Z"/>
<ellipse class="p" cx="487" cy="590" rx="4.2" ry="10" transform="rotate(-25.5 487 590)"/>
<ellipse class="p" cx="491" cy="588.2" rx="3.6" ry="10" transform="rotate(-25 491 588.2)"/>
<ellipse class="p" cx="494.6" cy="586.5" rx="3.6" ry="10" transform="rotate(-25 494.6 586.5)"/>
<ellipse class="p" cx="498.2" cy="584.8" rx="3.6" ry="10" transform="rotate(-25 498.2 584.8)"/>
<ellipse class="p" cx="501.8" cy="583.1" rx="3.6" ry="10" transform="rotate(-25 501.8 583.1)"/>
<ellipse class="p" cx="505.4" cy="581.4" rx="3.6" ry="10" transform="rotate(-25 505.4 581.4)"/>
<ellipse class="p" cx="486.5" cy="590.5" rx="2.4" ry="5" transform="rotate(-25 486.5 590.5)"/>
<path class="pw" d="M495.5 549V567L503 573.5V581L513.5 585.5L527 580.5V574L539 569L543.8 553Z"/>
<path class="p" d="M503 573.5L513.5 577.5V585.5M513.5 577.5L527 574M495.5 567L503 566.5L509 570"/>
<path class="p" d="M496 553Q499 568.5 521 569.5Q540 567.5 543.6 554"/>
<ellipse class="pw" cx="519.7" cy="549.2" rx="23.9" ry="14.7" transform="rotate(-8 519.7 549.2)"/>
<ellipse class="p" cx="519.7" cy="549.5" rx="20.5" ry="12.2" transform="rotate(-8 519.7 549.5)"/>
<path class="pt" d="M497.5 546L501.5 541M498.5 551.5H503.5"/>
<path class="p" d="M515.5 545.5Q514 541.5 518.5 540.5L527.5 538.5Q530.5 538.5 531 541Q531 543.5 528 544L519.5 546.5Q516.5 547 515.5 545.5Z"/>
<path class="p" d="M519 564L522.5 561.5L527 563L527.5 567.5L524 570L519.5 568.5Z"/>
<ellipse class="p" cx="523.3" cy="565.7" rx="1.8" ry="2"/>
<path class="p" d="M530 570L536 567.5V573.5L530 576Z"/>
<path class="pt" d="M507 566.5L512 569V574.5"/>
<path class="pw" d="M530.2 586.6 L543.2 593.1 A1.8 4 26.6 0 0 546.8 585.9 L533.8 579.4 A1.8 4 26.6 0 0 530.2 586.6 Z"/>
<ellipse class="p" cx="545" cy="589.5" rx="1.8" ry="4" transform="rotate(26.6 545 589.5)"/>
<line class="pt" x1="531" y1="587" x2="534.5" y2="579.8"/>
<line class="pt" x1="532.5" y1="587.7" x2="536" y2="580.5"/>
<line class="pt" x1="534" y1="588.5" x2="537.5" y2="581.3"/>
<line class="pt" x1="535.5" y1="589.2" x2="539" y2="582"/>
<line class="pt" x1="537" y1="590" x2="540.5" y2="582.8"/>
<line class="pt" x1="538.5" y1="590.7" x2="542" y2="583.5"/>
<path class="pw" d="M560.5 570.7 L598.5 556.2 A4.5 12.5 -20.9 0 0 589.5 532.8 L551.5 547.3 A4.5 12.5 -20.9 0 0 560.5 570.7 Z"/>
<ellipse class="p" cx="594" cy="544.5" rx="4.5" ry="12.5" transform="rotate(-20.9 594 544.5)"/>
<ellipse class="pw" cx="553.3" cy="561.7" rx="6.6" ry="13.4" transform="rotate(-20 553.3 561.7)"/>
<ellipse class="p" cx="555.5" cy="560.9" rx="6" ry="12.6" transform="rotate(-20 555.5 560.9)"/>
<polygon class="pw" points="564.2,491.3 565.1,491.8 566.1,492.3 567.4,492.9 568.7,493.6 570.2,494.3 571.7,495 573.2,495.8 574.7,496.6 576.1,497.5 577.4,498.3 578.6,499.1 579.6,499.9 580.6,500.8 581.7,501.7 582.7,502.7 583.7,503.6 584.6,504.6 585.5,505.6 586.3,506.6 586.9,507.5 587.5,508.4 587.9,509.2 588.1,509.9 588.3,510.6 588.3,511.2 588.3,511.9 588.2,512.7 587.9,513.6 587.6,514.6 587.1,515.6 586.6,516.6 586,517.6 585.3,518.7 584.6,519.7 583.9,520.7 583.2,521.5 582.5,522.3 581.6,523 580.7,523.8 579.6,524.6 578.4,525.3 577.1,526.1 575.8,526.9 574.5,527.7 573.2,528.5 571.9,529.4 570.7,530.2 569.5,531.2 568.5,532.2 567.6,533.1 566.7,534.1 565.9,535.1 565.2,536.1 564.6,537 564,537.8 563.4,538.6 563,539.3 562.6,539.9 562.2,540.4 562,540.8 568,545.2 568.4,544.7 568.8,544.1 569.2,543.5 569.7,542.8 570.2,542 570.7,541.3 571.3,540.5 571.8,539.7 572.5,538.9 573.1,538.2 573.8,537.5 574.5,536.8 575.2,536.2 576.1,535.5 577.2,534.8 578.4,534.1 579.7,533.3 581,532.5 582.4,531.7 583.8,530.8 585.1,529.8 586.4,528.8 587.7,527.7 588.8,526.5 589.8,525.3 590.7,524.1 591.6,522.8 592.4,521.5 593.2,520.2 593.9,518.8 594.5,517.4 595.1,515.9 595.5,514.3 595.7,512.7 595.8,511.1 595.7,509.4 595.3,507.8 594.8,506.2 594.1,504.8 593.2,503.4 592.3,502.1 591.2,500.8 590.2,499.5 589,498.4 587.9,497.2 586.7,496.2 585.6,495.1 584.4,494.1 583,493.1 581.6,492 580,491 578.4,490.1 576.7,489.2 575.1,488.4 573.5,487.6 572,486.8 570.7,486.2 569.5,485.6 568.5,485.1 567.8,484.7"/>
<polygon class="pw" points="537,481 545,476.5 566.5,486 566.5,493 558.5,497.5 537,488"/>
<polyline class="p" points="537,481 558.5,490.5 566.5,486"/>
<line class="p" x1="558.5" y1="490.5" x2="558.5" y2="497.5"/>
<path class="p" d="M542.5 479L542.5 475.5L549 472.5L553 474.5M549.5 482L549.5 478.5L556 475.5L560 477.5"/>
<path class="pt" d="M560 492.5L564 490.5M561 495L565 493"/>
<ellipse cx="562.5" cy="598.7" rx="4.2" ry="5" fill="#fff" stroke="#222" stroke-width="1.3"/>
<path class="p" d="M560 603.5L563 608M563.5 603L566 607"/>
<path class="pw" d="M571.6 607.6 L605.1 623.6 A1.8 4.5 25.5 0 0 608.9 615.4 L575.4 599.4 A1.8 4.5 25.5 0 0 571.6 607.6 Z"/>
<ellipse class="p" cx="607" cy="619.5" rx="1.8" ry="4.5" transform="rotate(25.5 607 619.5)"/>
<path class="pw" d="M617.1 608.6 L658.6 628.1 A1.8 4.5 25.2 0 0 662.4 619.9 L620.9 600.4 A1.8 4.5 25.2 0 0 617.1 608.6 Z"/>
<ellipse class="p" cx="660.5" cy="624" rx="1.8" ry="4.5" transform="rotate(25.2 660.5 624)"/>
<path class="pt" d="M606 615.5L609 620M659.5 620L662.5 624.5"/>
<path class="l" d="M605 688.7 C603.3 688.7 599.2 690.2 595 688.7 C590.8 687.2 585.5 683.6 580 680 C574.5 676.4 565 669.2 562 667"/>
<path class="l" d="M605 708.7 C602.9 708.7 595.2 709.5 592.5 708.7 C589.8 707.9 589.3 704.5 588.7 703.7"/>
<path class="l" d="M605 730 C602.9 729.8 600 731 592.5 728.7 C585 726.4 584.6 724.5 560 716 C535.4 707.5 464.2 683.9 445 677.5"/>
<path class="l" d="M605 750 C602.9 750 597.5 747.2 592.5 750 C587.5 752.8 583.8 757.8 575 767 C566.2 776.2 545.8 798.7 540 805"/>
<path class="l" d="M605 770 C602.9 770.2 598.3 766.5 592.5 771 C586.7 775.5 594.2 773.8 570 797 C545.8 820.2 467.9 891.2 447.5 910"/>
<path class="l" d="M605 791.2 C602.9 791.2 596 788.4 592.5 791.2 C589 794 587.3 801.5 584 808 C580.7 814.5 574.4 826.3 572.5 830"/>
<path class="l" d="M605 811.2 C602.9 811.2 595 807.2 592.5 811.2 C590 815.2 590.8 826.9 590 835 C589.2 843.1 587.9 855.8 587.5 860"/>
<path class="l" d="M637.5 655 C637.5 653.8 639.6 650.3 637.5 647.5 C635.4 644.7 630.2 641.8 625 638 C619.8 634.2 609.2 627.2 606 625"/>
<path class="l" d="M661 655 C661 653.5 662.5 648.8 661 646 C659.5 643.2 655.5 640.7 652 638 C648.5 635.3 642 631.3 640 630"/>
<path class="l" d="M484 535 C484.7 537.5 485.8 543.8 488 550 C490.2 556.2 495.5 568.3 497 572"/>
<polyline class="l" points="461.7,580 466,590"/>
<!-- 50_topright.py -->
<path class="l" d="M845 67.7 C840.8 68.1 842.2 64.1 820 70 C797.8 75.9 730 97.5 712 103"/>
<path class="l" d="M849 88.7 C846.7 88.9 843.2 87.6 835 90 C826.8 92.4 818.8 94.8 800 103 C781.2 111.2 735 133 722 139"/>
<path class="l" d="M845 108.5 C842.5 108.8 839.2 106.8 830 110 C820.8 113.2 811.7 117.2 790 128 C768.3 138.8 715 167.2 700 175"/>
<path class="l" d="M845 129.5 C842.5 129.8 837.5 128.1 830 131 C822.5 133.9 820 134.7 800 147 C780 159.3 725 195.3 710 205"/>
<path class="l" d="M849 150 C847.2 150.2 842.8 148.8 838 151 C833.2 153.2 837.2 149 820 163 C802.8 177 756.7 219.2 735 235 C713.3 250.8 697.5 254.2 690 258"/>
<polyline class="l" points="848,45 865,55 865,162 848,173"/>
<polyline class="l" points="865,105.5 871,108.5 865,111.5"/>
<path class="l" d="M515 51.5 C519.2 51.8 529.2 51.2 540 53 C550.8 54.8 568.8 58.8 580 62 C591.2 65.2 602.5 70.3 607 72"/>
<path class="l" d="M515 72 C516.3 72.1 521 70.3 523 72.5 C525 74.7 523.1 61.6 527 85 C530.9 108.4 543.2 191.7 546.5 213"/>
<path class="l" d="M930 231.7 C927.5 231.9 923.3 230.8 915 233 C906.7 235.2 923.8 227.7 880 245 C836.2 262.3 690 321.7 652 337"/>
<path class="l" d="M930 252.5 C927.5 252.8 923.3 251.9 915 254 C906.7 256.1 928.3 247.8 880 265 C831.7 282.2 667.5 341.7 625 357"/>
<path class="l" d="M930 271.7 C927.5 271.9 923.3 270.4 915 273 C906.7 275.6 924.5 271.2 880 287 C835.5 302.8 686.7 354.5 648 368"/>
<path class="l" d="M930 293.5 C927.5 293.8 922.5 292.6 915 295 C907.5 297.4 922.5 291.8 885 308 C847.5 324.2 722.5 378 690 392"/>
<path class="l" d="M930 314.7 C927.5 314.9 921.7 313.6 915 316 C908.3 318.4 923.8 313 890 329 C856.2 345 741.7 398.2 712 412"/>
<polyline class="d" points="650.6,57 649.6,101"/>
<polyline class="d" points="622,66 650.6,57"/>
<polyline class="d" points="641.5,131.3 655.7,126.2"/>
<polyline class="d" points="637.4,126 638.4,133"/>
<polyline class="p" points="594,66 597.5,63.5 603.8,69.2"/>
<path class="p" d="M596 75Q593.5 75.5 594 77.5Q596 79.5 599 77L604 75"/>
<polygon class="pw" points="603.8,69.2 612,65.5 625.5,74.5 625.5,84 617,88 603.8,78.5"/>
<polyline class="p" points="603.8,69.2 617,78.5 625.5,74.5"/>
<line class="p" x1="617" y1="78.5" x2="617" y2="88"/>
<polygon class="pt" points="608,70.5 611,69 614.5,71.5 611.5,73"/>
<polygon class="pw" points="617.5,87.8 634,98.5 637.5,96.5 622.5,86"/>
<path class="pw" d="M634.4 103.8V110L636 112L711 147.8Q713.5 148.5 716 147.3L743.5 133.5Q745.4 132 745.4 130V124.5"/>
<path class="pw" d="M634.4 103.8L638.5 100.7Q640 88 653.7 86.3Q664 86 668 92.5L741.5 121Q745.8 122.5 744.5 125.5L715.5 140Q713 141 710.5 140Z"/>
<path class="p" d="M638.5 100.7L641.5 102.5"/>
<polyline class="pw" points="662.9,130 662.9,153.7 687.3,141.5 687.3,139.5"/>
<path class="pw" d="M664 77.3L676 72.2Q688 74 697 83Q705.5 92 706.7 106.9L700.6 109Q699.5 98 692 90Q684 83 674 82.4Z"/>
<path class="p" d="M664 77.3V80.5L668 82"/>
<path class="pw" d="M658.9 103.2 L674.1 96 A0.7 1.3 -25.3 0 0 672.9 93.6 L657.7 100.8 A0.7 1.3 -25.3 0 0 658.9 103.2 Z"/>
<path class="pw" d="M675 105.2 L690.5 98.1 A0.7 1.3 -24.6 0 0 689.5 95.7 L674 102.8 A0.7 1.3 -24.6 0 0 675 105.2 Z"/>
<path class="p" d="M671.5 88V95.5M674 88.5V94.5"/>
<path class="p" d="M660 91.5L666.5 89L669 91"/>
<path class="p" d="M704.6 107V119.5M706.6 106.5V119.5"/>
<ellipse class="p" cx="692.4" cy="118" rx="3" ry="1.6"/>
<ellipse class="p" cx="692.4" cy="118" rx="1.3" ry="0.7"/>
<ellipse class="p" cx="718.9" cy="120.1" rx="6" ry="3.2"/>
<ellipse class="p" cx="718.9" cy="119.8" rx="3.4" ry="1.7"/>
<ellipse class="p" cx="704.6" cy="126.8" rx="6.3" ry="3.4"/>
<ellipse class="p" cx="704.6" cy="126.5" rx="3.6" ry="1.8"/>
<path class="pw" d="M718.9 143V152Q719.5 155.5 722 154.7L728 151.5V138.5"/>
<polygon class="p" points="722.5,144.5 724.5,143.5 724.5,148.5 722.5,149.5"/>
<ellipse cx="637.4" cy="123.1" rx="3.8" ry="2.1" fill="#fff" stroke="#222" stroke-width="1.4"/>
<path class="pw" d="M641.5 202Q640.5 186 651 182Q659 179.5 665 182.5Q668.5 185.5 666 189.5Q662 192 658.5 190.5Q652 189.5 651.5 202A5 2 0 0 1 641.5 202Z"/>
<path class="p" d="M665 182.5Q661 184.5 660.5 187.5Q661 190.5 664.5 190.3"/>
<path class="pw" d="M640.4 237V246.5A3.7 1.5 0 0 0 647.8 246.5V238"/>
<path class="pt" d="M647.5 247V327M649 247V327"/>
<path class="pw" d="M697.8 274V357.4Q712 361 726.5 357.4V272"/>
<path class="pw" d="M672.8 254V352.5L683.9 357V262"/>
<path class="p" d="M689.4 264V358L697.8 357.4"/>
<path class="pw" d="M659.8 246V353.7A2.3 1.4 0 0 0 664.4 353.7V246"/>
<path class="pw" d="M668 251V357.4A2.4 1.4 0 0 0 672.8 357.4V251"/>
<path class="pw" d="M683.9 259V364.8A2.8 1.4 0 0 0 689.4 364.8V259"/>
<path class="pw" d="M727.4 258V366.7A2.8 1.4 0 0 0 733 366.7V258"/>
<path class="pw" d="M737.6 255V363A2.3 1.4 0 0 0 742.2 363V255"/>
<path class="p" d="M733 360L737.6 358M664.4 351L668 352.5"/>
<path class="pw" d="M694 357.4V374A7.5 2.6 0 0 0 709 374V358.5"/>
<path class="pw" d="M706 279V292A5.5 2 0 0 0 717 292V277"/>
<path class="p" d="M697.8 276.5Q700 281 706 280.5M717 278.5Q722 277 726.5 272"/>
<path d="M633.9 227.8Q633.5 225 636 223.5L662 208Q664.5 206.5 667 207.5L741 243Q744.5 245 744.8 248V251.5Q744.5 253 742.5 254L712 267.5Q709 268.5 706.5 267.5L636.5 232.5Q634 231 633.9 227.8Z" fill="#fff" stroke="#222" stroke-width="1.5" stroke-linejoin="round"/>
<path d="M641 226L663.5 212.5L701.5 222.2L739 244.5Q740.5 246 738.5 247.5L713 259.5Q710.5 260.5 708 259.5L641 226Z" fill="#fff" stroke="#222" stroke-width="1.2" stroke-linejoin="round"/>
<path class="p" d="M633.9 227.8L706.5 263Q709 264 712 263L744.8 248"/>
<ellipse class="p" cx="645" cy="224.5" rx="3" ry="1.5"/>
<path class="pw" d="M689 154V176Q688.5 180 682 182.5Q674.5 185.5 674 192V211.5A18.9 7.6 0 0 0 711.8 211.5V192Q711.5 185.5 704 182.5Q697.5 180 697 176V154"/>
<ellipse class="pw" cx="693" cy="154" rx="4" ry="1.5"/>
<ellipse class="pt" cx="693" cy="154" rx="2" ry="0.7"/>
<path class="p" d="M674 192A18.9 7.6 0 0 0 711.8 192"/>
<polyline class="pt" points="693,147 693,152"/>
<ellipse cx="646.6" cy="337.8" rx="6" ry="3" fill="#fff" stroke="#222" stroke-width="1.4"/>
<path class="p" d="M643 340.5Q647 343 651.5 340M651 335.5L656 333.5M652 337.5L657 336"/>
<polygon class="pw" points="604.8,357 609,353.5 625.2,356 625.2,364 612,362 612,367 609.5,368.5 609.5,362 604.8,361.5"/>
<polyline class="p" points="609,353.5 609,357.5 604.8,361.5"/>
<polyline class="pt" points="609,357.5 625.2,360"/>
<!-- 55_midtubes.py -->
<path class="l" d="M440 403.5 C441.7 403.5 430 402.1 450 403.5 C470 404.9 522 409.1 560 412 C598 414.9 658.3 419.5 678 421"/>
<path class="l" d="M440 432.5 C441.7 432.5 430 429.2 450 432.5 C470 435.8 531.7 447.1 560 452 C588.3 456.9 601.3 459.7 620 462 C638.7 464.3 663.3 465.3 672 466"/>
<polyline class="l" points="407.5,590 396,590 381,538"/>
<polyline class="l" points="407.5,610.7 394.5,610.7 339.6,541.5"/>
<polyline class="l" points="407.5,630.5 394.5,630.5 315,530"/>
<polyline class="l" points="407.5,651.7 394.5,651.7 306,548"/>
<polyline class="l" points="407.5,673 396,673 372.5,642.5"/>
<polyline class="l" points="407.5,692.5 396,692.5 340,628"/>
<polyline class="l" points="407.5,713.7 395.4,713.7 306,640"/>
<polyline class="l" points="407.5,733 393.7,733 318,790"/>
<polyline class="l" points="407.5,754.5 393.7,754.5 277.5,914"/>
<path class="pw" d="M345.9 628.2 L354.9 632.7 A1 2.5 26.6 0 0 357.1 628.3 L348.1 623.8 A1 2.5 26.6 0 0 345.9 628.2 Z"/>
<path class="pw" d="M355 626.5L359 624.5L364.5 628L365 636L361 638.5L355.5 635Z"/>
<path class="p" d="M359 624.5L359.5 632.5L361 638.5M359.5 632.5L355.5 635"/>
<path class="pw" d="M364.5 630L372 626.5L373.5 628.5L369 632L375.5 631L376 633.5L369 636.5L373 638.5L371.5 640.5L365 636"/>
<polyline class="d" points="647.5,390 647.5,440"/>
<polyline class="d" points="684,409 684,416"/>
<polyline class="d" points="684,426 684,443"/>
<polyline class="d" points="702.5,458 702.5,485"/>
<polyline class="d" points="702,536 702,551"/>
<polyline class="d" points="702.5,588 702.5,640"/>
<path class="d" d="M685.5 497 C685.6 500.8 685.2 512 686 520 C686.8 528 689.2 533.3 690 545 C690.8 556.7 691.2 577.5 690.5 590 C689.8 602.5 689.1 612 686 620 C682.9 628 674.3 635 672 638"/>
<path class="pw" d="M641.3 354.5 L641.3 386 A6.2 2.2 0 0 0 653.7 386 L653.7 354.5"/><ellipse class="pw" cx="647.5" cy="354.5" rx="6.2" ry="2.2"/>
<ellipse class="pt" cx="647.5" cy="354.5" rx="3" ry="1"/>
<path class="pw" d="M679.9 376 L679.9 406 A4.4 1.6 0 0 0 688.7 406 L688.7 376"/><ellipse class="pw" cx="684.3" cy="376" rx="4.4" ry="1.6"/>
<path class="pt" d="M681 406.5L683 404.5L685 406.8L687 404.8"/>
<ellipse cx="683.7" cy="421.3" rx="5.2" ry="2.5" fill="#fff" stroke="#222" stroke-width="1.3"/>
<path class="p" d="M688 419.5L692.5 417.5M688.5 421.5L693 420.5"/>
<path class="pw" d="M696.3 406.5 L696.3 436 A6.2 2.2 0 0 0 708.7 436 L708.7 406.5"/><ellipse class="pw" cx="702.5" cy="406.5" rx="6.2" ry="2.2"/>
<path class="pt" d="M700 405.5V402M705 405.5V402"/>
<path class="pt" d="M698 437.5L701 435L704 438L707 435.5"/>
<path class="pw" d="M696.3 444.5Q699 442 702.5 443.5Q706 442 708.7 444.5V455A6.2 2.2 0 0 1 696.3 455Z"/>
<path class="pw" d="M680.5 458V446L681.5 444.5V441.5L683 440H684.5L686 441.5V444.5L687 446V458"/>
<path class="pt" d="M680.5 449H687M680.5 452H687"/>
<path class="pw" d="M671.3 462V477.5A11.8 4 0 0 0 695 477.5V462"/>
<ellipse class="pw" cx="683.2" cy="462" rx="11.8" ry="4.2"/>
<path class="pw" d="M670 478.5V481.5A13.2 4.4 0 0 0 696.4 481.5V478.5"/>
<path class="p" d="M670 478.5A13.2 4.4 0 0 0 696.4 478.5"/>
<path class="pw" d="M682.5 486V492L683.5 493.5V496.5H687.5V493.5L688.7 492V486"/>
<path class="pt" d="M682.5 489H688.7"/>
<path class="pw" d="M710.4 507.2 L727.9 500.4 A1.7 4 -21.2 0 0 725.1 493 L707.6 499.8 A1.7 4 -21.2 0 0 710.4 507.2 Z"/>
<ellipse class="p" cx="726.5" cy="496.7" rx="1.7" ry="4" transform="rotate(-21.2 726.5 496.7)"/>
<path class="pw" d="M693.7 487V516.5H696.3V534A5.6 2 0 0 0 707.5 534V516.5H710V487"/>
<ellipse class="pw" cx="701.9" cy="487" rx="8.1" ry="3"/>
<path class="p" d="M693.7 516.5A8.1 3 0 0 0 710 516.5"/>
<path class="pw" d="M696.3 553 L696.3 586 A6.2 2.2 0 0 0 708.7 586 L708.7 553"/><ellipse class="pw" cx="702.5" cy="553" rx="6.2" ry="2.2"/>
<path class="pt" d="M698.5 552.5L700.5 554.5M701 551.5L703.5 554.8M704 551.7L706 554.3"/>
<!-- 60_right.py -->
<path class="l" d="M930 474.2 C928.3 474.2 923 477.2 920 474 C917 470.8 916.6 468.7 912 455 C907.4 441.3 895.8 402.5 892.5 392"/>
<path class="l" d="M930 495 C928 494.5 924.7 497 918 492 C911.3 487 899.8 475.8 890 465 C880.2 454.2 864.2 433.3 859 427"/>
<path class="l" d="M930 514.5 C928 514.1 928 519.4 918 512 C908 504.6 888.4 487.8 870 470 C851.6 452.2 817.9 415.8 807.5 405"/>
<path class="l" d="M930 536.2 C927.9 535.8 929.2 539.7 917.5 533.7 C905.8 527.7 880.9 511.9 860 500 C839.1 488.1 803.3 468.3 792 462"/>
<path class="l" d="M930 557.2 C928 556.8 928 559.5 918 555 C908 550.5 885.9 538.2 870 530 C854.1 521.8 830.4 510 822.5 506"/>
<path class="l" d="M930 577 C928 576.8 931.3 579.7 918 575.5 C904.7 571.3 872.5 559.4 850 552 C827.5 544.6 794.2 534.5 783 531"/>
<path class="l" d="M930 598 C928 597.8 931.3 599.7 918 597 C904.7 594.3 872.3 586.5 850 582 C827.7 577.5 795 572 784 570"/>
<path class="l" d="M930 662 C928 661.7 929.7 663.7 918 660 C906.3 656.3 903 654.2 860 640 C817 625.8 693.3 585.8 660 575"/>
<path class="l" d="M918 660 C908.3 658.3 896.3 657 860 650 C823.7 643 741.3 630.5 700 618 C658.7 605.5 626.7 582.2 612 575"/>
<path class="l" d="M930 701 C928 700.8 926.3 701.2 918 700 C909.7 698.8 894 696.5 880 694 C866 691.5 841.4 686.5 833.7 685"/>
<polyline class="l" points="930,726.2 918,726.2 830,722.5"/>
<path class="l" d="M930 747.5 C928 747.6 921.3 746.9 918 748 C914.7 749.1 912.8 751.3 910 754 C907.2 756.7 902.5 762.3 901 764"/>
<path class="l" d="M930 767.5 C928 767.6 923 765.9 918 768 C913 770.1 911.8 771.3 900 780 C888.2 788.7 856.2 813.3 847.5 820"/>
<path class="l" d="M930 788.7 C928 788.8 923 787.3 918 789.5 C913 791.7 908 795.7 900 802 C892 808.3 875 823.2 870 827.5"/>
<path class="l" d="M930 808.7 C928.2 808.8 921.8 807.6 919 809.5 C916.2 811.4 915.1 815.2 913 820 C910.9 824.8 907.3 835 906.2 838"/>
<polyline class="d" points="752.5,434 800,383.7 862.5,407.5"/>
<polyline class="d" points="810,386.2 860,410"/>
<polyline class="d" points="752.5,434 800,458"/>
<polyline class="d" points="840,652 836,665"/>
<polyline class="d" points="826,697 825.5,711"/>
<polyline class="d" points="790,709 811,720"/>
<polyline class="d" points="842,736 850,740"/>
<polyline class="d" points="901.3,811 901.5,832"/>
<polyline class="d" points="902,870 902,878"/>
<path class="d" d="M789 520 C791.8 521.3 802.2 521.3 806 528 C809.8 534.7 809.7 548.8 812 560 C814.3 571.2 816.7 584.2 820 595 C823.3 605.8 828.7 616 832 625 C835.3 634 838.9 642.5 839.7 649 C840.5 655.5 837.5 661.5 837 664"/>
<polyline class="ds" points="770.8,588 770.8,608"/>
<polyline class="ds" points="773.7,633.5 834,600.5 813.9,586"/>
<path class="pw" d="M870.5 408.7 L900.5 376.2 A1.9 5.5 -47.3 0 0 892.5 368.8 L862.5 401.3 A1.9 5.5 -47.3 0 0 870.5 408.7 Z"/>
<ellipse class="p" cx="866.5" cy="405" rx="1.9" ry="5.5" transform="rotate(-47.3 866.5 405)"/>
<path class="pw" d="M901.4 376 L953.4 351.3 A2.5 5.5 -25.4 0 0 948.6 341.3 L896.6 366 A2.5 5.5 -25.4 0 0 901.4 376 Z"/>
<path class="p" d="M896.5 367.5L899.5 370.5M898 374L901 376.5"/>
<path class="pw" d="M795 392V408L777 416.5Q774.5 419 776.5 423.5Q779 427 782 426L806.2 414.5V392A5.6 2 0 0 0 795 392Z"/>
<ellipse class="pw" cx="800.6" cy="392" rx="5.6" ry="2"/>
<line class="pt" x1="795" y1="394.9" x2="806.2" y2="394.9"/>
<line class="pt" x1="795" y1="397.6" x2="806.2" y2="397.6"/>
<line class="pt" x1="795" y1="400.2" x2="806.2" y2="400.2"/>
<line class="pt" x1="795" y1="402.9" x2="806.2" y2="402.9"/>
<line class="pt" x1="795" y1="405.6" x2="806.2" y2="405.6"/>
<line class="pt" x1="783.1" y1="424.6" x2="778.8" y2="415.6"/>
<line class="pt" x1="786" y1="423.2" x2="781.7" y2="414.2"/>
<line class="pt" x1="788.9" y1="421.9" x2="784.6" y2="412.8"/>
<line class="pt" x1="791.9" y1="420.5" x2="787.6" y2="411.4"/>
<line class="pt" x1="794.8" y1="419.1" x2="790.5" y2="410.1"/>
<line class="pt" x1="797.7" y1="417.7" x2="793.4" y2="408.7"/>
<path class="pw" d="M851 413.5L860 420.5L839.5 449L830 473.5Q826 475.5 820.5 472.5L826 456L808 463Q803.5 461.5 802.5 457Q802.5 453 805 451.5L829 442.8Z"/>
<line class="pt" x1="846.7" y1="413.6" x2="854.5" y2="419"/>
<line class="pt" x1="844.8" y1="416.3" x2="852.7" y2="421.7"/>
<line class="pt" x1="843" y1="419" x2="850.8" y2="424.4"/>
<line class="pt" x1="808.2" y1="460.9" x2="804.8" y2="452"/>
<line class="pt" x1="811.2" y1="459.8" x2="807.8" y2="450.9"/>
<line class="pt" x1="814.2" y1="458.6" x2="810.8" y2="449.7"/>
<line class="pt" x1="817.2" y1="457.5" x2="813.8" y2="448.6"/>
<line class="pt" x1="829.8" y1="470.8" x2="821" y2="468.7"/>
<line class="pt" x1="830.6" y1="467.3" x2="821.9" y2="465.2"/>
<line class="pt" x1="831.5" y1="463.8" x2="822.7" y2="461.7"/>
<path class="p" d="M826 455L836 449.5"/>
<path class="pw" d="M733.8 497.6 L764.3 484.6 A1.8 4.5 -23.1 0 0 760.7 476.4 L730.2 489.4 A1.8 4.5 -23.1 0 0 733.8 497.6 Z"/>
<ellipse class="p" cx="732" cy="493.5" rx="1.8" ry="4.5" transform="rotate(-23.1 732 493.5)"/>
<path class="pt" d="M733.5 492L736.5 494.5"/>
<path class="pw" d="M770.8 480.1 L800.8 467.1 A1.8 4.5 -23.4 0 0 797.2 458.9 L767.2 471.9 A1.8 4.5 -23.4 0 0 770.8 480.1 Z"/>
<ellipse class="p" cx="769" cy="476" rx="1.8" ry="4.5" transform="rotate(-23.4 769 476)"/>
<polygon class="pw" points="816.9,483.2 816.6,483.9 816.2,484.8 815.7,485.8 815.2,487 814.5,488.3 813.9,489.8 813.3,491.2 812.6,492.8 812,494.3 811.5,495.9 811,497.5 810.6,499 810.3,500.5 810.1,501.9 809.9,503.4 809.8,504.8 809.7,506.2 809.7,507.6 809.7,509 809.7,510.3 809.8,511.7 809.8,513 809.9,514.2 810,515.5 810.2,516.8 810.4,518.1 810.7,519.5 811,520.8 811.3,522 811.6,523.2 812,524.3 812.3,525.3 812.6,526.3 812.8,527 813,527.7 813.2,528.2 821.8,525.8 821.7,525.2 821.4,524.4 821.2,523.6 820.9,522.7 820.6,521.7 820.3,520.7 820,519.6 819.7,518.6 819.5,517.5 819.3,516.5 819.1,515.5 819,514.5 818.9,513.5 818.8,512.4 818.7,511.3 818.7,510.1 818.7,508.9 818.7,507.8 818.7,506.6 818.8,505.4 818.9,504.3 819,503.1 819.2,502 819.4,501 819.7,499.9 820,498.7 820.5,497.5 821,496.1 821.6,494.7 822.2,493.4 822.7,492 823.3,490.8 823.9,489.6 824.4,488.5 824.8,487.5 825.1,486.8"/>
<ellipse class="pw" cx="821" cy="485" rx="1.9" ry="4.5" transform="rotate(113 821 485)"/>
<polygon class="pw" points="784.8,513.6 784.4,513.7 784,513.9 783.3,514.1 782.5,514.3 781.6,514.6 780.6,515 779.6,515.3 778.6,515.8 777.5,516.3 776.4,516.8 775.3,517.4 774.2,518.1 773.3,518.8 772.4,519.6 771.6,520.3 770.7,521.1 769.9,521.9 769.1,522.8 768.3,523.7 767.5,524.7 766.8,525.6 766.1,526.7 765.4,527.7 764.8,528.8 764.2,530.1 763.7,531.4 763.3,532.7 762.9,534.1 762.6,535.4 762.3,536.6 762.1,537.8 761.9,539 761.7,540 761.6,540.8 761.5,541.5 761.4,542 770.6,544 770.8,543.3 770.9,542.5 771.1,541.6 771.3,540.6 771.5,539.6 771.7,538.5 771.9,537.4 772.1,536.4 772.4,535.4 772.7,534.5 772.9,533.8 773.2,533.2 773.6,532.6 774,531.9 774.5,531.2 775,530.5 775.5,529.9 776.1,529.2 776.7,528.6 777.3,527.9 778,527.4 778.6,526.8 779.2,526.3 779.8,525.9 780.3,525.5 780.9,525.2 781.5,524.9 782.3,524.5 783,524.2 783.9,523.9 784.7,523.6 785.5,523.4 786.2,523.1 786.9,522.9 787.6,522.6 788.2,522.4"/>
<ellipse class="pw" cx="786.5" cy="518" rx="2" ry="4.8" transform="rotate(159.1 786.5 518)"/>
<path class="pw" d="M754 566V577A16 6 0 0 0 786 577V566"/>
<path class="pw" d="M757.5 574.5V582.5A12.5 5 0 0 0 782.5 582.5V575"/>
<path class="p" d="M754 571.5A16 6 0 0 0 786 571.5"/>
<ellipse class="pw" cx="770" cy="566" rx="16" ry="6"/>
<ellipse class="p" cx="770" cy="565.2" rx="11" ry="3.8"/>
<path class="pw" d="M766.5 565V553L768.5 552V564.5M772 564V554.5L777.5 552.5L780.5 554V562.5"/>
<path class="pt" d="M774.5 557L778.5 560.5"/>
<path class="pw" d="M722.1 555.1 L746.1 566.1 A1.8 4.5 24.6 0 0 749.9 557.9 L725.9 546.9 A1.8 4.5 24.6 0 0 722.1 555.1 Z"/>
<ellipse class="p" cx="748" cy="562" rx="1.8" ry="4.5" transform="rotate(24.6 748 562)"/>
<polygon class="pw" points="832.9,664.2 832.6,664.6 832.3,665 831.8,665.7 831.3,666.4 830.7,667.1 830.1,668 829.5,668.9 828.9,669.8 828.2,670.8 827.6,671.8 827.1,672.8 826.5,673.7 826.1,674.7 825.7,675.6 825.3,676.5 824.9,677.4 824.5,678.4 824.2,679.3 823.9,680.2 823.6,681.2 823.3,682.1 823.1,683 822.8,684 822.6,684.9 822.4,686 822.2,687.1 822.1,688.1 822,689.2 821.9,690.2 821.8,691.3 821.7,692.2 821.7,693.1 821.6,693.9 821.6,694.6 821.6,695.2 821.5,695.6 831.5,696.4 831.5,695.9 831.6,695.2 831.6,694.5 831.7,693.7 831.7,692.9 831.8,692 831.8,691.1 831.9,690.2 832,689.3 832.1,688.5 832.2,687.8 832.4,687.1 832.6,686.3 832.7,685.6 833,684.8 833.2,684.1 833.4,683.3 833.7,682.6 833.9,681.8 834.2,681.1 834.5,680.4 834.8,679.6 835.1,678.9 835.5,678.3 835.8,677.6 836.2,676.9 836.7,676.2 837.2,675.4 837.7,674.6 838.3,673.8 838.9,673 839.4,672.2 839.9,671.5 840.4,670.9 840.8,670.3 841.1,669.8"/>
<ellipse class="pw" cx="837" cy="667" rx="2.1" ry="5" transform="rotate(124.6 837 667)"/>
<path class="pw" d="M821.5 723V713.5A3.8 1.5 0 0 1 829 713.5V726"/>
<ellipse class="pw" cx="825.3" cy="713.3" rx="3.8" ry="1.5"/>
<ellipse class="pt" cx="825.3" cy="713.3" rx="2" ry="0.8"/>
<path class="pw" d="M812.8 725.2 L836.8 736.2 A1.2 3 24.6 0 0 839.2 730.8 L815.2 719.8 A1.2 3 24.6 0 0 812.8 725.2 Z"/>
<ellipse class="p" cx="838" cy="733.5" rx="1.2" ry="3" transform="rotate(24.6 838 733.5)"/>
<line class="pt" x1="811.5" y1="724.3" x2="813.8" y2="719.3"/>
<line class="pt" x1="812.9" y1="724.9" x2="815.2" y2="719.9"/>
<line class="pt" x1="814.3" y1="725.6" x2="816.6" y2="720.6"/>
<line class="pt" x1="815.7" y1="726.2" x2="818" y2="721.2"/>
<path class="p" d="M821.5 722L825 726.5L829 726"/>
<polygon class="pw" points="849.9,746.9 851.1,747.4 852.7,748 854.4,748.6 856.3,749.3 858.4,750.1 860.6,750.9 862.8,751.8 865,752.7 867.2,753.6 869.2,754.6 871.1,755.6 872.7,756.6 874.3,757.6 875.9,758.8 877.5,760.1 879.1,761.4 880.6,762.7 882.1,764.1 883.6,765.5 885,766.9 886.3,768.3 887.5,769.7 888.5,771.1 889.5,772.4 890.4,773.7 891.1,774.9 891.7,776.2 892.3,777.5 892.8,778.7 893.2,780.1 893.6,781.4 894,782.8 894.4,784.2 894.7,785.7 895,787.3 895.3,788.8 895.6,790.4 895.8,792.1 896,793.9 896.2,795.9 896.3,797.8 896.4,799.8 896.5,801.7 896.5,803.6 896.6,805.3 896.6,806.8 896.7,808.2 896.8,809.2 905.2,808.8 905.2,807.8 905.1,806.5 905.1,805 905,803.3 905,801.4 904.9,799.4 904.8,797.4 904.7,795.2 904.5,793.1 904.3,791.1 904,789.1 903.7,787.2 903.3,785.5 903,783.9 902.6,782.3 902.2,780.7 901.8,779.1 901.3,777.4 900.8,775.8 900.1,774.2 899.4,772.5 898.5,770.9 897.6,769.2 896.5,767.6 895.3,765.9 894,764.3 892.6,762.7 891.2,761.1 889.6,759.5 888,757.9 886.3,756.4 884.6,754.9 882.8,753.4 881,752 879.2,750.7 877.3,749.4 875.3,748.2 873,747 870.7,745.9 868.4,744.9 866,743.9 863.6,743 861.4,742.1 859.2,741.3 857.3,740.6 855.6,740 854.2,739.5 853.1,739.1"/>
<ellipse class="pw" cx="851.5" cy="743" rx="1.8" ry="4.2" transform="rotate(21.8 851.5 743)"/>
<ellipse cx="901" cy="819.4" rx="5.5" ry="2.5" fill="#fff" stroke="#222" stroke-width="1.3"/>
<path class="p" d="M905.5 817.5L910 816M906 819.5L910.5 818.5"/>
<path class="pw" d="M897.5 835V863.5L899.5 865V868.5A2.5 1 0 0 0 904.5 868.5V865L906.2 863.5V835"/>
<ellipse class="pw" cx="901.9" cy="834.5" rx="4.4" ry="1.8"/>
<ellipse class="pt" cx="901.9" cy="834.5" rx="2.6" ry="1"/>
<path class="pt" d="M897.5 837A4.4 1.8 0 0 0 906.2 837M897.5 839A4.4 1.8 0 0 0 906.2 839M897.5 863.5A4.4 1.8 0 0 0 906.2 863.5M897.5 861A4.4 1.8 0 0 0 906.2 861"/>
<path class="pw" d="M884.8 845 L895.3 851 A1.4 3.5 29.7 0 0 898.7 845 L888.2 839 A1.4 3.5 29.7 0 0 884.8 845 Z"/>
<line class="pt" x1="885.5" y1="845.4" x2="888.9" y2="839.3"/>
<line class="pt" x1="886.9" y1="846.2" x2="890.2" y2="840.1"/>
<line class="pt" x1="888.3" y1="846.9" x2="891.6" y2="840.8"/>
<line class="pt" x1="889.6" y1="847.7" x2="893" y2="841.6"/>
<path class="pw" d="M853.4 833.1 L882.4 847.6 A2.4 5.8 26.6 0 0 887.6 837.4 L858.6 822.9 A2.4 5.8 26.6 0 0 853.4 833.1 Z"/>
<ellipse class="p" cx="856" cy="828" rx="2.4" ry="5.8" transform="rotate(26.6 856 828)"/>
<path class="p" d="M868.5 829L866 839.5M871 830L868.5 840.7M878.5 834L876.2 844"/>
<ellipse class="p" cx="880" cy="841.5" rx="1.6" ry="2"/>
<path class="pw" d="M847.7 827.2 L853.7 830.2 A1.2 3 26.6 0 0 856.3 824.8 L850.3 821.8 A1.2 3 26.6 0 0 847.7 827.2 Z"/>
<ellipse class="p" cx="849" cy="824.5" rx="1.2" ry="3" transform="rotate(26.6 849 824.5)"/>
<ellipse cx="842.8" cy="823" rx="4.3" ry="5.3" fill="#fff" stroke="#222" stroke-width="1.4" transform="rotate(20 842.8 823)"/>
<ellipse class="p" cx="842.8" cy="823" rx="2" ry="2.8" transform="rotate(20 842.8 823)"/>
<path class="pw" d="M817.4 801Q817.5 798.5 819.5 797L836.5 785.5Q838.7 784.3 841 785.3L846.5 788Q848.2 789 848.2 791V812Q848 814.5 846.5 816.5L829 832.5Q827 834 825 833L819 829.5Q817.4 828.5 817.4 826Z"/>
<path class="pt" d="M819.5 797L825.5 800.5L842.5 789M825.5 800.5V833"/>
<ellipse class="p" cx="834" cy="818.5" rx="3.8" ry="5.4" transform="rotate(25 834 818.5)"/>
<ellipse class="p" cx="828" cy="803.5" rx="0.8" ry="0.8"/>
<ellipse class="p" cx="838.5" cy="795" rx="0.8" ry="0.8"/>
<ellipse class="p" cx="845" cy="791" rx="0.8" ry="0.8"/>
<ellipse cx="900.7" cy="882.5" rx="5.6" ry="3" fill="#fff" stroke="#222" stroke-width="1.3"/>
<path class="p" d="M895.1 882.5V885.5A5.6 3 0 0 0 906.3 885.5V882.5"/>
<ellipse class="p" cx="900.7" cy="882.3" rx="3" ry="1.4"/>
<path class="pw" d="M899 896V937.5A2.4 .9 0 0 0 903.8 937.5V896A2.4 .9 0 0 0 899 896Z"/>
<!-- 70_pump.py -->
<polyline class="l" points="678,813.5 687,813.5 691.5,756"/>
<polyline class="l" points="678,834 688,834 709,777"/>
<polyline class="l" points="697,855 708,855 757,760"/>
<polyline class="l" points="697,871.5 706,871.5 754,806"/>
<polyline class="l" points="678,891.5 689,891.5 818,814"/>
<polyline class="l" points="677,909 689,909 741,879"/>
<polyline class="l" points="677,929.5 690,929 725,898"/>
<polyline class="l" points="690,929 768,920"/>
<path class="pt" d="M712 716 C713 717.5 716.3 722.5 718 725 C719.7 727.5 721.3 730 722 731"/>
<path class="pt" d="M714 714.5 C715.2 716.1 719.3 721.4 721 724 C722.7 726.6 723.5 729 724 730"/>
<path class="pt" d="M702 722 C704.2 723.5 709.5 727.2 715 731 C720.5 734.8 729.5 741.2 735 745 C740.5 748.8 745.8 752.5 748 754"/>
<path class="pt" d="M703 720.5 C705.2 722 710.3 725.6 716 729.5 C721.7 733.4 731.3 740.1 737 744 C742.7 747.9 747.8 751.5 750 753"/>
<polygon class="pw" points="787.7,706.3 785.7,705.4 783.1,704.2 780,702.8 776.6,701.2 772.8,699.5 768.9,697.7 764.8,695.9 760.8,694.1 756.8,692.3 753.1,690.8 749.6,689.3 746.4,688.2 743.6,687.1 740.9,686.2 738.4,685.4 735.9,684.6 733.5,684 731.2,683.4 729,682.8 726.8,682.4 724.6,682 722.5,681.7 720.3,681.5 718.2,681.4 716,681.4 713.9,681.4 711.9,681.5 709.8,681.7 707.8,682 705.9,682.4 704,682.9 702.1,683.4 700.3,684 698.5,684.7 696.7,685.5 695,686.4 693.4,687.4 691.7,688.5 690.1,689.6 688.5,690.9 687,692.2 685.5,693.6 684.1,695.1 682.8,696.6 681.5,698.2 680.4,699.8 679.3,701.4 678.4,703.1 677.5,704.9 676.8,706.7 676.2,708.5 675.7,710.4 675.2,712.3 674.9,714.3 674.7,716.2 674.5,718.1 674.4,719.9 674.3,721.7 674.3,723.5 674.4,725.3 674.6,727 674.8,728.8 675.2,730.5 675.6,732.2 676.1,733.9 676.6,735.5 677.2,737.1 677.8,738.6 678.4,740 679.1,741.4 679.7,742.7 680.4,744 681.2,745.3 682.1,746.6 683.1,747.8 684.1,748.9 685.1,749.9 686.1,750.8 687,751.7 687.9,752.4 688.6,753.1 689.3,753.6 689.8,754.1 690.1,754.4 695.9,748.6 695.3,748.1 694.7,747.5 694,746.9 693.2,746.2 692.4,745.5 691.6,744.8 690.8,744 690.1,743.3 689.3,742.5 688.7,741.6 688.1,740.8 687.6,740 687,739 686.5,737.8 685.9,736.6 685.3,735.4 684.8,734.1 684.3,732.8 683.9,731.5 683.5,730.1 683.2,728.7 682.9,727.4 682.7,726.1 682.6,724.7 682.5,723.3 682.5,721.8 682.6,720.3 682.7,718.7 682.8,717.1 683,715.5 683.3,713.9 683.6,712.4 684,710.9 684.5,709.5 685,708.2 685.6,706.9 686.3,705.7 687.2,704.4 688.1,703.1 689.1,701.9 690.2,700.6 691.3,699.4 692.5,698.3 693.8,697.2 695,696.2 696.3,695.2 697.7,694.4 699,693.6 700.3,692.9 701.7,692.3 703.1,691.7 704.6,691.2 706.1,690.8 707.6,690.4 709.2,690.1 710.8,689.9 712.5,689.7 714.2,689.6 716,689.6 717.8,689.6 719.7,689.7 721.5,689.9 723.4,690.1 725.3,690.5 727.2,690.9 729.3,691.3 731.4,691.9 733.6,692.5 735.9,693.2 738.3,694 740.9,694.9 743.6,695.8 746.6,697 749.9,698.3 753.6,699.9 757.5,701.6 761.5,703.3 765.5,705.1 769.4,706.9 773.1,708.6 776.6,710.2 779.7,711.6 782.3,712.8 784.3,713.7"/>
<ellipse class="pw" cx="786" cy="710" rx="1.7" ry="4.1" transform="rotate(-155.9 786 710)"/>
<ellipse class="pw" cx="693" cy="751.5" rx="1.7" ry="4.1" transform="rotate(-135.7 693 751.5)"/>
<polygon class="pw" points="696.5,708 700,705 714,712 713.5,715.5 710,717.5 696.5,711"/>
<polyline class="pt" points="696.5,708 710,714.5 714,712"/>
<line class="pt" x1="710" y1="714.5" x2="710" y2="717.5"/>
<polygon class="pw" points="685,715.5 688.5,712.5 704,720 703.5,723.5 700,725.5 685,718.5"/>
<polyline class="pt" points="685,715.5 700,722.5 704,720"/>
<line class="pt" x1="700" y1="722.5" x2="700" y2="725.5"/>
<path class="pw" d="M702.6 747Q702.6 745 704 743.5L713 734.5L722.5 729.5Q724 729 725.5 729.7L731.5 732Q733 732.8 733.2 734.5L734 752Q734 755 732.5 758L728.5 766.5Q722 774 716.5 776.5Q714.5 777.2 712.5 776L705 771.5Q703.5 770.7 703.5 768.5Z"/>
<polyline class="pt" points="722.5,729.5 724,733.5 733.2,736.5"/>
<ellipse class="p" cx="719" cy="762.4" rx="3.8" ry="5.3" transform="rotate(28 719 762.4)"/>
<ellipse class="p" cx="709" cy="747.5" rx="0.8" ry="0.8"/>
<ellipse class="p" cx="718" cy="739.5" rx="0.8" ry="0.8"/>
<ellipse class="p" cx="727" cy="734" rx="0.8" ry="0.8"/>
<path class="pw" d="M728.7 773.6V793L759.7 808.2L793.3 791V770.5L785 762L760.5 773.5L749.5 760.4Q740 761.5 733.2 767.5Z"/>
<path class="p" d="M733.2 767.5Q732 771 733.2 773.6L758.7 785.8L793.3 770.5M758.7 785.8L759.7 808.2"/>
<path class="p" d="M728.7 773.6L733.2 773.6"/>
<path class="p" d="M734 766.5Q741 760.5 749.5 760.4"/>
<polygon class="pw" points="755.6,773.6 760.7,776.7 761.5,783 791,769.5 790.3,762.4 785.2,760 760.2,772.5"/>
<polyline class="p" points="760.7,776.7 790.3,762.4"/>
<polyline class="p" points="760.2,772.5 760.7,776.7"/>
<polygon class="pw" points="748.5,753.5 752.5,751.5 758,754.5 754,756.8"/>
<path class="pt" d="M762 757.5L774 763M760.5 760L771 765M758 763L767.5 767.5M756.5 766L764 769.5"/>
<path class="p" d="M752 764L757.5 767L756.5 772"/>
<path class="pw" d="M772.4 799.2 L780.4 803.2 A3 8 26.6 0 0 787.6 788.8 L779.6 784.8 A3 8 26.6 0 0 772.4 799.2 Z"/>
<ellipse class="p" cx="776" cy="792" rx="3" ry="8" transform="rotate(26.6 776 792)"/>
<ellipse class="p" cx="776" cy="792" rx="3.1" ry="8" transform="rotate(27 776 792)"/>
<ellipse class="p" cx="779.5" cy="793.8" rx="3.1" ry="8" transform="rotate(27 779.5 793.8)"/>
<ellipse class="p" cx="783" cy="795.6" rx="2.8" ry="7.2" transform="rotate(27 783 795.6)"/>
<path class="pw" d="M787.9 800.8 L811.4 811.3 A2.1 5.2 24.1 0 0 815.6 801.7 L792.1 791.2 A2.1 5.2 24.1 0 0 787.9 800.8 Z"/>
<ellipse class="p" cx="813.5" cy="806.5" rx="2.1" ry="5.2" transform="rotate(24.1 813.5 806.5)"/>
<line class="pt" x1="805.2" y1="808.2" x2="809.3" y2="799.1"/>
<line class="pt" x1="806.7" y1="808.9" x2="810.8" y2="799.8"/>
<line class="pt" x1="808.2" y1="809.5" x2="812.3" y2="800.4"/>
<line class="pt" x1="809.7" y1="810.2" x2="813.8" y2="801.1"/>
<path class="p" d="M795.5 801.5L797.5 802.5M799 803L801 804"/>
<path class="p" d="M763.5 797.5L768.5 795L771.5 798.5L767 801.5Z"/>
<path class="pt" d="M756.5 797L761.5 799.5M757 800L761 802"/>
<path class="p" d="M741.5 898 C741.6 893.3 741.8 876 742 870 C742.2 864 742 863.9 743 862 C744 860.1 745.7 859.7 748 858.5 C750.3 857.3 755 855.4 757 855 C759 854.6 759.4 854.8 760 856 C760.6 857.2 760.4 858.7 760.5 862 C760.6 865.3 760.1 872.9 760.5 876 C760.9 879.1 761.9 880.3 763 880.5 C764.1 880.7 765.7 879.4 767 877 C768.3 874.6 770.1 869.5 771 866 C771.9 862.5 772.2 857.7 772.5 856"/>
<path class="pt" d="M744 896 C744.1 891.8 744.2 876.3 744.5 871 C744.8 865.7 744.6 865.8 745.5 864 C746.4 862.2 748 861.6 750 860.5 C752 859.4 756.2 858 757.5 857.5"/>
<ellipse class="p" cx="771.5" cy="855" rx="2.8" ry="3.2"/>
<ellipse class="p" cx="771.5" cy="855" rx="1.2" ry="1.5"/>
<path class="p" d="M741.5 898 C741.9 898.4 742.9 900.3 744 900.5 C745.1 900.7 747.2 900.1 748 899 C748.8 897.9 748.3 895.1 749 894 C749.7 892.9 744.7 888.8 752 892.5 C759.3 896.2 785.5 911.4 793 916 C800.5 920.6 795.9 918.6 797 920 C798.1 921.4 798.7 923.6 799.5 924.5 C800.3 925.4 801.5 926.6 802 925.5 C802.5 924.4 802.6 923.4 802.5 918 C802.4 912.6 801.4 897.9 801.5 893 C801.6 888.1 801.6 889.8 803 888.5 C804.4 887.2 807.8 886.2 810 885.5 C812.2 884.8 814.8 883.8 816 884 C817.2 884.2 817.3 884.3 817.5 887 C817.7 889.7 816.8 897 817 900 C817.2 903 817.9 904.7 819 905 C820.1 905.3 822.1 904.5 823.5 902 C824.9 899.5 826.8 893.2 827.5 890 C828.2 886.8 827.9 883.8 828 882.5"/>
<path class="pt" d="M752.5 895 C759.1 898.9 784.8 913.8 792 918.5 C799.2 923.2 795.3 922.2 796 923"/>
<ellipse class="p" cx="827.3" cy="881.5" rx="2.8" ry="3.2"/>
<ellipse class="p" cx="827.3" cy="881.5" rx="1.2" ry="1.5"/>
<ellipse class="pw" cx="729.5" cy="905.5" rx="8.3" ry="7.3" transform="rotate(35 729.5 905.5)"/>
<ellipse class="p" cx="730.5" cy="905" rx="1.9" ry="2.3" transform="rotate(20 730.5 905)"/>
<path class="pt" d="M722 908.5Q727 915.5 735.5 911.5"/>
<ellipse class="pw" cx="776.5" cy="927" rx="8.3" ry="7.3" transform="rotate(35 776.5 927)"/>
<ellipse class="p" cx="777.5" cy="926.5" rx="1.9" ry="2.3" transform="rotate(20 777.5 926.5)"/>
<path class="pt" d="M769 930Q774 937 782.5 933"/>
<polyline class="l" points="612,672 624,680 624,820 611,827"/>
<polyline class="l" points="624,746.5 629,750 624,753.5"/>
<polyline class="l" points="674,1022 681.5,1032.5 708,1032.5 716.5,1040 722.5,1032.5 750,1032.5 757,1022"/>
<polyline class="l" points="690.5,1018 690.5,1007.5 288.5,930"/>
<polyline class="l" points="715.5,1018 715.5,1005 347.5,900"/>
<polyline class="l" points="715.5,1005 895,886"/>
<polyline class="l" points="740,1018 740,1010 899,919"/>
<polygon class="pw" points="336.5,890.5 339.5,888 344.5,889 346,893.5 343,897.5 338.5,897 336,893.5"/>
<path class="p" d="M339.5 888L338.8 892.5L338.5 897M338.8 892.5L346 893.5"/>
<path class="pw" d="M353.3 890.8 L384.8 877.3 A0.9 2 -23.2 0 0 383.2 873.7 L351.7 887.2 A0.9 2 -23.2 0 0 353.3 890.8 Z"/>
<ellipse class="p" cx="384" cy="875.5" rx="0.9" ry="2" transform="rotate(-23.2 384 875.5)"/>
<polyline class="l" points="288,925.5 336,895"/>
<path class="d" d="M386 874 C389.2 873.8 400.2 870.8 405 872.5 C409.8 874.2 412.3 876.9 415 884 C417.7 891.1 419 906 421 915 C423 924 423 932 427 938 C431 944 434.5 947.8 445 951 C455.5 954.2 464.2 955.9 490 957 C515.8 958.1 551.7 957.8 600 957.5 C648.3 957.2 740 954.4 780 955 C820 955.6 824.7 958.6 840 961 C855.3 963.4 863.2 969.5 872 969.5 C880.8 969.5 888 965.6 893 961 C898 956.4 900.5 945.2 902 942"/>
<!-- 90_red.py -->
<ellipse class="r" cx="330" cy="514.5" rx="36.5" ry="29.5" transform="rotate(-12 330 514.5)"/>
<ellipse class="r" cx="297.5" cy="541" rx="9.5" ry="16.5" transform="rotate(-12 297.5 541)"/>
<ellipse class="r" cx="335.5" cy="620" rx="10.5" ry="18.5" transform="rotate(-8 335.5 620)"/>
<ellipse class="r" cx="270" cy="666" rx="34.5" ry="19.5"/>
<ellipse class="r" cx="269" cy="775" rx="61" ry="31"/>
<!-- 95_centerwm.py -->
<text class="wc" transform="translate(443 640.5) rotate(-43.4)">Profesional vending store</text></svg>
</body></html>
